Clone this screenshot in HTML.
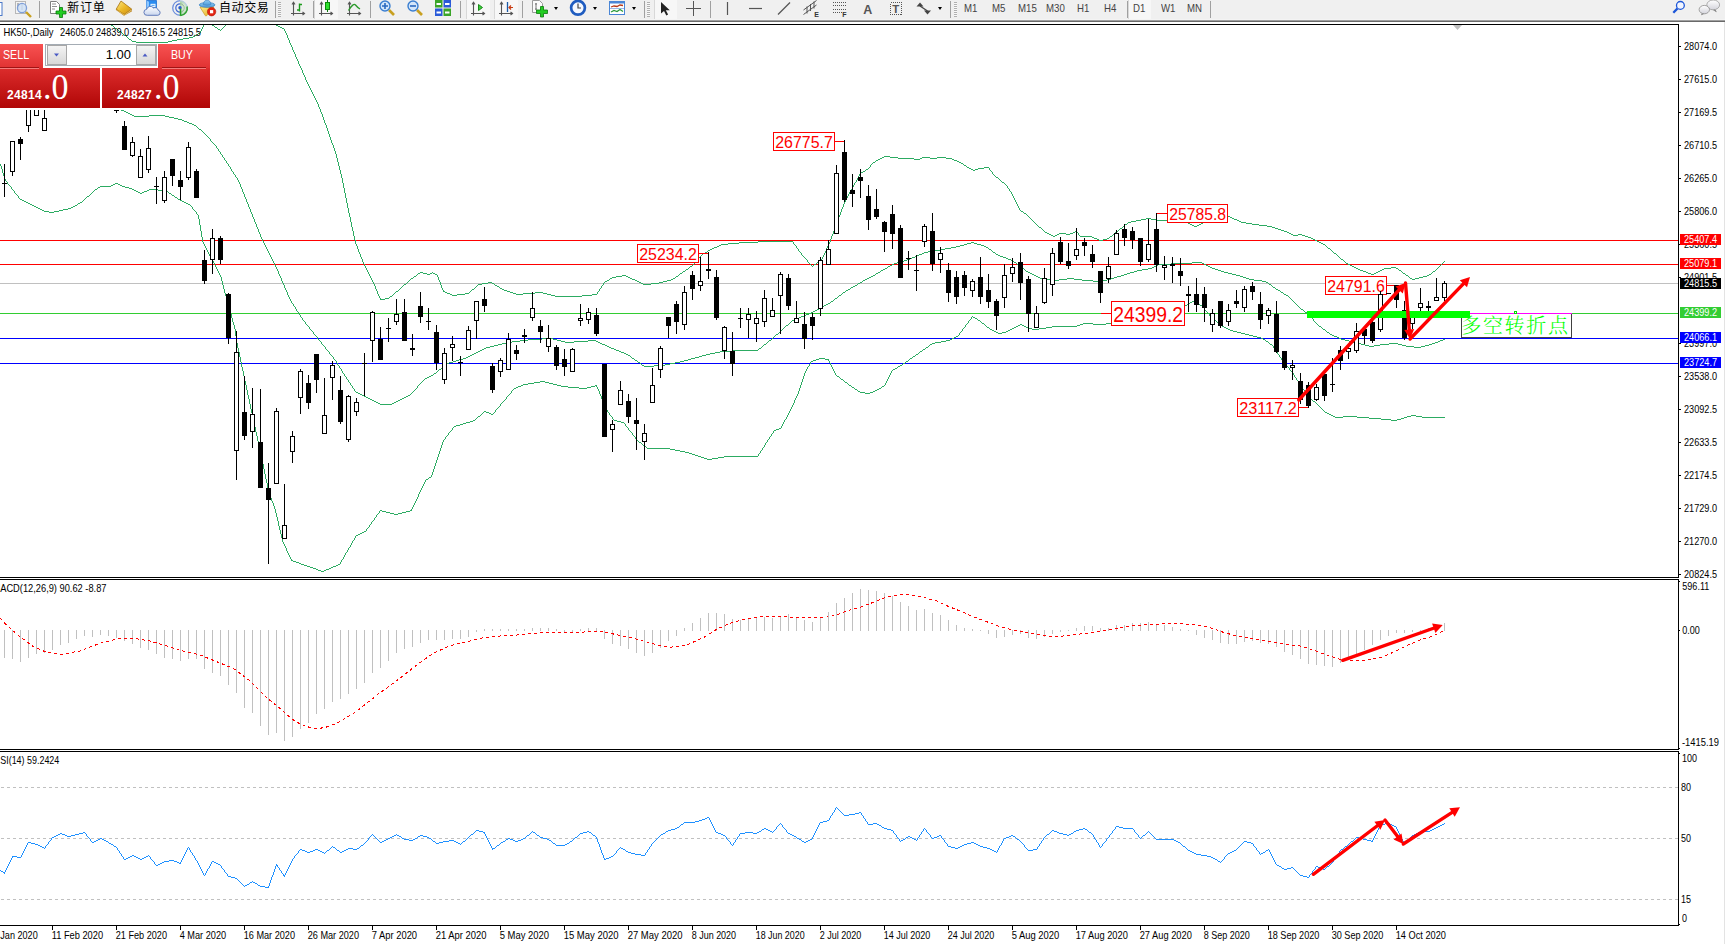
<!DOCTYPE html>
<html lang="zh"><head><meta charset="utf-8"><title>HK50 Daily</title>
<style>
html,body{margin:0;padding:0;background:#fff;}
body{width:1725px;height:944px;position:relative;overflow:hidden;font-family:"Liberation Sans","Noto Sans CJK SC",sans-serif;}
.tb{position:absolute;left:0;top:0;width:1725px;height:20px;background:#f0f0f0;}
.l0{position:absolute;left:0;top:19px;width:1725px;height:1px;background:#f4f4f4;}
.l1{position:absolute;left:0;top:20px;width:1725px;height:1px;background:#a0a0a0;}
.l2{position:absolute;left:0;top:21px;width:1725px;height:1px;background:#696969;}
.sep{position:absolute;top:1px;width:1px;height:17px;background:#a0a0a0;}
.grip{position:absolute;top:2px;width:3px;height:15px;background:repeating-linear-gradient(to bottom,#b0b0b0 0,#b0b0b0 1px,#f8f8f8 1px,#f8f8f8 2px);}
.sel{position:absolute;top:0;height:19px;background:#f7f7f7;border-left:1px solid #d8d8d8;}
.tf{position:absolute;top:2.6px;font-size:10.4px;color:#444;line-height:12px;white-space:nowrap;transform:scaleX(.93);transform-origin:0 0;}
.cn{position:absolute;top:0;font-size:12px;line-height:16px;color:#000;white-space:nowrap;}
.dd{position:absolute;top:7px;width:0;height:0;border-left:2.5px solid transparent;border-right:2.5px solid transparent;border-top:3px solid #000;}
.ic{position:absolute;top:0;}
.panel{position:absolute;left:0;top:44px;width:210px;height:64px;}
.pt{position:absolute;top:0;height:24px;background:linear-gradient(#f85252,#e13232);}
.pd{position:absolute;top:23px;height:1px;background:#a01414;}
.pb{position:absolute;top:24px;height:40px;background:linear-gradient(#dc2c2c,#b00606);}
.pl{position:absolute;top:24px;height:1px;background:#f47c7c;}
.pbtn{position:absolute;top:0;height:23px;color:#fff;font-size:12.4px;line-height:23px;transform:scaleX(.86);transform-origin:0 0;}
.spin{position:absolute;left:45px;top:0;width:110px;height:20px;background:#fff;border:1px solid #a4acb4;box-sizing:content-box;}
.sb{position:absolute;top:0;width:20px;height:20px;background:linear-gradient(#f4f4f4,#d8d8d8);border:1px solid #a8a8a8;box-sizing:border-box;}
.sm{position:absolute;font-size:12px;font-weight:bold;color:#fff;line-height:12px;letter-spacing:.35px;}
.bg{position:absolute;font-size:35px;color:#fff;line-height:35px;font-family:"Liberation Serif",serif;transform:scaleX(.97);transform-origin:0 0;}
</style></head><body>
<div class="tb"></div><div class="l0"></div><div class="l1"></div><div class="l2"></div>
<div class="sel" style="left:314px;width:23px"></div>
<div class="sel" style="left:466px;width:23px"></div>
<div class="sel" style="left:494px;width:23px"></div>
<div class="sel" style="left:654px;width:22px"></div>
<div class="sel" style="left:1128px;width:22px"></div>
<div class="sep" style="left:39px"></div>
<div class="sep" style="left:275px"></div>
<div class="sep" style="left:313px"></div>
<div class="sep" style="left:370px"></div>
<div class="sep" style="left:460px"></div>
<div class="sep" style="left:522px"></div>
<div class="sep" style="left:644px"></div>
<div class="sep" style="left:710px"></div>
<div class="sep" style="left:950px"></div>
<div class="sep" style="left:1127px"></div>
<div class="sep" style="left:1210px"></div>
<div class="grip" style="left:278px"></div>
<div class="grip" style="left:647px"></div>
<div class="grip" style="left:954px"></div>
<div class="cn" style="left:67.3px;top:0;letter-spacing:.7px">新订单</div>
<div class="cn" style="left:219px;top:0;letter-spacing:.6px">自动交易</div>
<div class="dd" style="left:554px"></div>
<div class="dd" style="left:593px"></div>
<div class="dd" style="left:632px"></div>
<div class="dd" style="left:938px"></div>
<div class="tf" style="left:964px">M1</div>
<div class="tf" style="left:992px">M5</div>
<div class="tf" style="left:1018px">M15</div>
<div class="tf" style="left:1046px">M30</div>
<div class="tf" style="left:1077px">H1</div>
<div class="tf" style="left:1104px">H4</div>
<div class="tf" style="left:1133px">D1</div>
<div class="tf" style="left:1161px">W1</div>
<div class="tf" style="left:1187px">MN</div>
<svg class="ic" width="1725" height="20" viewBox="0 0 1725 20" style="left:0">
<!-- left cut icon -->
<rect x="-2" y="2.5" width="4" height="13" fill="#fff" stroke="#4a78c8"/>
<!-- chart magnifier -->
<rect x="15.5" y="1.5" width="10" height="12" fill="#f4f4f4" stroke="#b8b8b8"/>
<path d="M18 3v7M22 3v7" stroke="#777" stroke-width="1"/>
<line x1="26" y1="12" x2="31" y2="17" stroke="#c8a020" stroke-width="2.4"/>
<circle cx="22" cy="8" r="4.6" fill="#cfe0f6" fill-opacity=".85" stroke="#7f9fd8" stroke-width="1.2"/>
<!-- new order -->
<path d="M50.5 1.5h6l3 3v9h-9z" fill="#fff" stroke="#808080"/>
<path d="M52 4h4M52 6.5h5M52 9h3" stroke="#909090" stroke-width="1"/>
<path d="M59.5 7.500h3v3.500h3.500v3h-3.500v3.500h-3v-3.500h-3.500v-3h3.500z" fill="#22cc22" stroke="#0a7a0a" stroke-width=".8"/>
<!-- gold book -->
<defs>
<linearGradient id="gb" x1="0" y1="0" x2="1" y2="1"><stop offset="0" stop-color="#fbe98a"/><stop offset=".5" stop-color="#ecb928"/><stop offset="1" stop-color="#c98a12"/></linearGradient>
<linearGradient id="hat" x1="0" y1="0" x2="0" y2="1"><stop offset="0" stop-color="#8fcaf2"/><stop offset="1" stop-color="#4f9bd8"/></linearGradient>
<linearGradient id="fun" x1="0" y1="0" x2="1" y2="1"><stop offset="0" stop-color="#fdf08a"/><stop offset="1" stop-color="#e3a51c"/></linearGradient>
<linearGradient id="cl" x1="0" y1="0" x2="0" y2="1"><stop offset="0" stop-color="#ffffff"/><stop offset="1" stop-color="#c9d6ee"/></linearGradient>
<radialGradient id="sg" cx=".5" cy=".5" r=".5"><stop offset="0" stop-color="#e8f2e8"/><stop offset="1" stop-color="#9fcf9f"/></radialGradient>
</defs>
<path d="M124 15.800l-8-5.800 1-1.200 7.500 5.400 7-4.200.5 1.200z" fill="#b57a14"/>
<path d="M121 1l10.800 8.200-7.600 5.200-8-5.200z" fill="url(#gb)" stroke="#a8720e" stroke-width=".8"/>
<path d="M117.500 10.500l6.800 4.600 6.800-4.500" fill="none" stroke="#f3d778" stroke-width=".7"/>
<!-- cloud -->
<path d="M146.500 .5h10v8.500h-10z" fill="#2a8cf0" stroke="#1f6fd0" stroke-width=".8"/>
<path d="M146.500 .5l2.500 1.200v7.300h-2.500z" fill="#8cc6ff"/>
<rect x="150.500" y="3.800" width="5" height="3.200" fill="#e8f4ff"/>
<path d="M151.500 5.400h3" stroke="#2a8cf0" stroke-width=".8"/>
<path d="M147.200 15.300a3 3 0 0 1-.5-6a3.800 3.800 0 0 1 6.800-1.300a3.200 3.200 0 0 1 4.700 2.200a2.600 2.600 0 0 1-.4 5.100z" fill="url(#cl)" stroke="#5672b4" stroke-width=".9"/>
<!-- signal -->
<path d="M180 .5a7.500 7.500 0 0 1 0 15z" fill="url(#sg)" opacity=".8"/>
<circle cx="180" cy="8" r="7.300" fill="none" stroke="#b4c6ec" stroke-width="1"/>
<path d="M180 .7a7.300 7.300 0 0 0 0 14.600" fill="none" stroke="#6f90dc" stroke-width="1.100"/>
<path d="M180 3.800a4.200 4.200 0 0 0 0 8.400" fill="none" stroke="#3f68d2" stroke-width="1.200"/>
<path d="M180 3.800a4.200 4.200 0 0 1 0 8.400" fill="none" stroke="#8fb08f" stroke-width="1"/>
<path d="M180.500 15.500a7.400 7.400 0 0 0 6.600-9" fill="none" stroke="#2fa12f" stroke-width="1.500"/>
<circle cx="180" cy="7.800" r="1.700" fill="#2a5ad0"/>
<line x1="180.500" y1="8.500" x2="180.500" y2="15.800" stroke="#22a022" stroke-width="1.500"/>
<!-- autotrade -->
<path d="M200 7h14l-3 4-4.500 4.800q-.6.500-1.200-.200z" fill="url(#fun)" stroke="#c8961a" stroke-width=".7"/>
<ellipse cx="207.100" cy="4.900" rx="7.800" ry="2.400" fill="url(#hat)" stroke="#3d84c4" stroke-width=".8"/>
<path d="M203.300 4.600q.4-4.400 3.800-4.400t3.800 4.400q-3.800 1.300-7.600 0z" fill="url(#hat)" stroke="#3d84c4" stroke-width=".7"/>
<circle cx="211.600" cy="11.700" r="4.200" fill="#e32412" stroke="#b01608" stroke-width=".6"/>
<rect x="210" y="10.100" width="3.200" height="3.200" fill="#fff"/>
<!-- bar chart -->
<g stroke="#555" stroke-width="1.1" fill="none">
<path d="M293.5 2.500v13M291.0 13.500h13"/><path d="M292.0 4.500l1.500-2.200 1.500 2.200M302.5 12l2 1.500-2 1.500"/>
<path d="M321.5 2.500v13M319.0 13.500h13"/><path d="M320.0 4.500l1.500-2.200 1.500 2.200M330.5 12l2 1.500-2 1.500"/>
<path d="M349.5 2.500v13M347.0 13.500h13"/><path d="M348.0 4.500l1.500-2.200 1.500 2.200M358.5 12l2 1.500-2 1.500"/>
<path d="M473.5 2.500v13M471.0 13.500h13"/><path d="M472.0 4.500l1.500-2.200 1.500 2.200M482.5 12l2 1.500-2 1.500"/>
<path d="M501.5 2.500v13M499.0 13.500h13"/><path d="M500.0 4.500l1.500-2.200 1.500 2.200M510.5 12l2 1.500-2 1.500"/>
</g>
<path d="M299.500 3.500v8M299.500 4.500h2.500M297 10h2.500" fill="none" stroke="#1c9a1c" stroke-width="1.400"/>
<line x1="327.500" y1="0" x2="327.500" y2="12" stroke="#0a7a0a" stroke-width="1"/>
<rect x="325.500" y="2.500" width="4" height="7" fill="#2ee02e" stroke="#0a8a0a"/>
<path d="M348.500 10.500q5-8 7-5.500t4.500 4" fill="none" stroke="#2a9a2a" stroke-width="1.300"/>
<!-- zoom in/out -->
<line x1="389" y1="10" x2="394" y2="15" stroke="#c8a020" stroke-width="2.600"/>
<circle cx="385" cy="6" r="5" fill="#d4e6fa" stroke="#3a7ed0" stroke-width="1.400"/>
<path d="M382 6h6M385 3v6" stroke="#2a6ac0" stroke-width="1.600"/>
<line x1="417" y1="10" x2="422" y2="15" stroke="#c8a020" stroke-width="2.600"/>
<circle cx="413" cy="6" r="5" fill="#d4e6fa" stroke="#3a7ed0" stroke-width="1.400"/>
<path d="M410 6h6" stroke="#2a6ac0" stroke-width="1.600"/>
<!-- tile -->
<rect x="435" y="0" width="7.500" height="7.500" fill="#3aa528"/><rect x="443.500" y="0" width="7.500" height="7.500" fill="#2a5ad8"/>
<rect x="435" y="8.500" width="7.500" height="7.500" fill="#2a5ad8"/><rect x="443.500" y="8.500" width="7.500" height="7.500" fill="#3aa528"/>
<path d="M436.500 4h4.500M445 4h4.500M436.500 12.500h4.500M445 12.500h4.500" stroke="#fff" stroke-width="2"/>
<!-- autoscroll / shift -->
<path d="M478.500 4.500l4 3-4 3z" fill="#3ad03a" stroke="#1c8a1c" stroke-width="1"/>
<line x1="507.500" y1="2" x2="507.500" y2="12" stroke="#1a5aa8" stroke-width="1.300"/>
<path d="M513 7.500h-4M511 5.500l-2 2 2 2" fill="none" stroke="#c83a10" stroke-width="1.200"/>
<!-- new indicator -->
<path d="M532.500 .5h7l3 3v9h-10z" fill="#fbfbfb" stroke="#9a9a9a"/>
<path d="M536 3v7M535 4h2M535 9h2" stroke="#777" stroke-width="1"/>
<path d="M540.500 6.500h3v3.500h4v3.500h-4v3.500h-3v-3.500h-4v-3.500h4z" fill="#22cc22" stroke="#0a7a0a" stroke-width=".8"/>
<!-- clock -->
<circle cx="578" cy="7.800" r="6.900" fill="#f4f8ff" stroke="#1f5cc0" stroke-width="2.700"/>
<path d="M578 3.500v4.500h3" fill="none" stroke="#444" stroke-width="1.200"/>
<!-- template -->
<rect x="609.500" y="1.500" width="15" height="13" fill="#fff" stroke="#4a86d6"/>
<rect x="609" y="1" width="16" height="2.500" fill="#4a86d6"/>
<path d="M611 7l3-1 3 .5 3-1.500 3 .5" fill="none" stroke="#b83a1a" stroke-width="1.300"/>
<path d="M611 12l3-1.500 3 1 3-2 3 2" fill="none" stroke="#2a9a3a" stroke-width="1.300"/>
<line x1="610" y1="8.500" x2="624" y2="8.500" stroke="#9ab8e6" stroke-width="1"/>
<!-- cursor -->
<path d="M661 2v11.500l3-2.500 2.300 4.500 1.800-.9-2.300-4.400h4z" fill="#222"/>
<!-- crosshair -->
<path d="M693.500 1v15M686 8.500h15" stroke="#555" stroke-width="1.100" shape-rendering="crispEdges"/>
<!-- line tools -->
<line x1="727.500" y1="2" x2="727.500" y2="15" stroke="#555" stroke-width="1.200"/>
<line x1="749" y1="8.500" x2="762" y2="8.500" stroke="#555" stroke-width="1.200"/>
<line x1="778" y1="14.500" x2="790" y2="2.500" stroke="#555" stroke-width="1.200"/>
<path d="M803.500 10l13-9.500M803.500 14.500l13-9.500M807 6.500v7M810.500 4v7M814 1.500v7" stroke="#555" stroke-width="1" fill="none"/>
<text x="814.200" y="16.800" font-size="7" font-family="Liberation Sans, sans-serif" font-weight="bold" fill="#333">E</text>
<path d="M833 2.500h13M833 5.500h13M833 9.500h13M833 12.500h9" stroke="#555" stroke-width="1" stroke-dasharray="1 1" shape-rendering="crispEdges"/>
<text x="842.200" y="16.800" font-size="7" font-family="Liberation Sans, sans-serif" font-weight="bold" fill="#333">F</text>
<text x="863.200" y="13.500" font-size="12.500" font-family="Liberation Sans, sans-serif" font-weight="bold" fill="#555">A</text>
<rect x="890.500" y="2.500" width="11" height="12" fill="none" stroke="#555" stroke-dasharray="1 1" shape-rendering="crispEdges"/>
<text x="892.300" y="13" font-size="11.500" font-family="Liberation Sans, sans-serif" font-weight="bold" fill="#555">T</text>
<path d="M916.500 6.500l3.500-4 3.500 4zM924 10.500l3.500 4 3.500-4z" fill="#444"/>
<path d="M920 6l7.500 5" stroke="#444" stroke-width="1.300"/>
<!-- search -->
<line x1="1677.600" y1="8.400" x2="1673.300" y2="12.700" stroke="#1c56d8" stroke-width="2.300"/>
<circle cx="1680.400" cy="5.400" r="3.900" fill="#f2f5ff" stroke="#1c56d8" stroke-width="1.300"/>
<!-- chat -->
<defs><linearGradient id="bub" x1="0" y1="0" x2="0" y2="1"><stop offset="0" stop-color="#ffffff"/><stop offset="1" stop-color="#d4d4dc"/></linearGradient></defs>
<path d="M1715 9.500l1.300 2.300-3-2z" fill="#777" stroke="#777" stroke-width=".6"/>
<ellipse cx="1713.200" cy="4.900" rx="6.400" ry="4.900" fill="url(#bub)" stroke="#9a9a9a" stroke-width=".8"/>
<path d="M1702.500 12.800l-1 2 2.800-1.400z" fill="#777" stroke="#777" stroke-width=".6"/>
<ellipse cx="1704.300" cy="9.600" rx="5.200" ry="4.200" fill="url(#bub)" stroke="#8e8e8e" stroke-width=".8"/>
</svg>

<svg width="1725" height="944" viewBox="0 0 1725 944" style="position:absolute;left:0;top:0" font-family="Liberation Sans, sans-serif">
<defs><clipPath id="cm"><rect x="0" y="25" width="1678" height="552"/></clipPath><clipPath id="c2"><rect x="0" y="580" width="1678" height="169"/></clipPath><clipPath id="c3"><rect x="0" y="752" width="1678" height="173"/></clipPath></defs>
<g shape-rendering="crispEdges">
<rect x="0" y="24" width="1679" height="1" fill="#000"/>
<rect x="1678" y="24" width="1" height="554" fill="#000"/>
<rect x="0" y="577" width="1679" height="1" fill="#000"/>
<rect x="0" y="579" width="1679" height="1" fill="#000"/>
<rect x="1678" y="579" width="1" height="171" fill="#000"/>
<rect x="0" y="749" width="1679" height="1" fill="#000"/>
<rect x="0" y="751" width="1679" height="1" fill="#000"/>
<rect x="1678" y="751" width="1" height="175" fill="#000"/>
<rect x="0" y="925" width="1679" height="1" fill="#000"/>
<rect x="1724" y="22" width="1" height="922" fill="#e3e3e3"/>
<g clip-path="url(#cm)">
<rect x="0" y="283" width="1678" height="1" fill="#c0c0c0"/>
<rect x="0" y="240" width="1678" height="1" fill="#ff0000"/>
<rect x="0" y="264" width="1678" height="1" fill="#ff0000"/>
<rect x="0" y="313" width="1678" height="1" fill="#32cd32"/>
<rect x="0" y="338" width="1678" height="1" fill="#0000ff"/>
<rect x="0" y="363" width="1678" height="1" fill="#0000ff"/>
<path d="M172 40.5h5M136 42.5h32M132 41.5h4M168 41.5h4M193 36.5h2M119 31.5h2M124 35.5h2M195 35.5h2M198 33.5h2M129 39.5h2M177 39.5h6M183 38.5h6M111 25.5h2M189 37.5h4M115 28.5h2M113.5 26v1M203.5 25v2M201.5 29v2M121.5 32v1M122.5 33v1M202.5 27v2M131.5 40v1M118.5 30v1M200.5 31v2M126.5 36v1M127.5 37v1M117.5 29v1M197.5 34v1M114.5 27v1M128.5 38v1M123.5 34v1" fill="none" stroke="#2cab62" stroke-width="1"/>
<path d="M215 27.5h2M218 29.5h2M212 25.5h2M224.5 26v1M220.5 30v1M223.5 27v1M221.5 29v1M217.5 28v1M214.5 26v1M225.5 25v1M222.5 28v1" fill="none" stroke="#2cab62" stroke-width="1"/>
<path d="M447 293.5h3M465 293.5h4M513 293.5h3M523 293.5h12M543 293.5h4M1125 224.5h2M1190 224.5h2M1199 224.5h2M1252 224.5h7M1092 237.5h2M1308 237.5h3M739 242.5h19M1319 242.5h2M967 167.5h2M984 167.5h5M708 250.5h2M452 295.5h5M551 295.5h4M582 295.5h10M482 283.5h6M492 283.5h2M641 283.5h2M651 283.5h8M1021 211.5h2M418 273.5h2M423 273.5h4M430 273.5h2M433 273.5h2M680 273.5h2M1368 273.5h3M1374 273.5h2M1403 273.5h2M1075 231.5h2M1284 231.5h3M1146 218.5h5M1214 218.5h5M1232 218.5h2M957 161.5h2M884 156.5h6M612 277.5h4M628 277.5h2M1419 277.5h4M450 294.5h2M457 294.5h8M516 294.5h7M547 294.5h4M592 294.5h5M1136 220.5h5M1156 220.5h16M1208 220.5h3M1237 220.5h2M712 248.5h2M1328 248.5h2M497 286.5h2M1341 259.5h2M710 249.5h2M1094 238.5h3M1107 238.5h2M1311 238.5h2M605 281.5h2M637 281.5h2M663 281.5h4M876 160.5h2M954 160.5h3M1141 219.5h5M1151 219.5h5M1211 219.5h3M1234 219.5h3M472 289.5h2M502 289.5h2M882 157.5h2M890 157.5h8M922 157.5h8M937 157.5h9M1188 223.5h2M1201 223.5h2M1246 223.5h6M504 290.5h3M683 271.5h2M1363 271.5h3M1378 271.5h2M1433 271.5h2M1219 217.5h6M1230 217.5h2M1120 228.5h2M1275 228.5h3M390 296.5h2M555 296.5h27M721 244.5h7M1323 244.5h2M1354 267.5h2M1391 267.5h5M1192 225.5h2M1197 225.5h2M1259 225.5h8M878 159.5h2M914 159.5h6M952 159.5h2M1024 213.5h2M719 245.5h2M758 241.5h35M1317 241.5h2M1356 268.5h2M1384 268.5h7M1396 268.5h2M705 252.5h2M1051 235.5h2M1055 235.5h2M1293 235.5h5M1302 235.5h3M703 253.5h2M1334 253.5h2M1225 216.5h5M714 247.5h3M1047 233.5h2M1059 233.5h7M1070 233.5h3M1289 233.5h2M411 278.5h2M610 278.5h2M630 278.5h2M673 278.5h2M1410 278.5h2M1415 278.5h4M488 282.5h4M639 282.5h2M659 282.5h4M445 292.5h2M510 292.5h3M535 292.5h8M385 298.5h4M1350 265.5h2M973 170.5h2M414 276.5h2M616 276.5h6M626 276.5h2M676 276.5h2M1423 276.5h4M380 299.5h5M280 27.5h2M282 28.5h2M632 279.5h3M671 279.5h2M1412 279.5h3M420 272.5h3M1366 272.5h2M1376 272.5h2M1128 222.5h3M1182 222.5h6M1203 222.5h2M1241 222.5h5M1131 221.5h5M1172 221.5h10M1205 221.5h3M1239 221.5h2M1194 226.5h3M1267 226.5h5M686 269.5h2M1358 269.5h2M1382 269.5h2M427 274.5h3M435 274.5h2M1371 274.5h3M1429 274.5h2M1281 230.5h3M622 275.5h4M1406 275.5h2M1427 275.5h2M1099 240.5h4M1315 240.5h2M1053 236.5h2M1080 236.5h12M1110 236.5h2M1305 236.5h3M961 163.5h2M495 285.5h2M880 158.5h2M898 158.5h16M920 158.5h2M930 158.5h7M946 158.5h6M964 165.5h2M1039 227.5h2M1272 227.5h3M1049 234.5h2M1057 234.5h2M1066 234.5h4M1291 234.5h2M1298 234.5h4M1045 232.5h2M1073 232.5h2M1115 232.5h2M1287 232.5h2M1097 239.5h2M1103 239.5h4M1313 239.5h2M404 284.5h2M478 284.5h4M643 284.5h8M814 264.5h2M1348 264.5h2M500 288.5h2M866 169.5h2M971 169.5h2M975 169.5h3M728 243.5h11M1321 243.5h2M819 260.5h2M396 291.5h2M443 291.5h2M507 291.5h3M873 162.5h2M959 162.5h2M690 266.5h2M1352 266.5h2M1278 229.5h3M863 171.5h2M861 172.5h2M607 280.5h2M635 280.5h2M667 280.5h4M1360 270.5h3M1380 270.5h2M1399 270.5h2M1346 263.5h2M717 246.5h2M969 168.5h2M978 168.5h6M1002 182.5h2M276 25.5h2M278 26.5h2M996 177.5h2M857.5 178v2M309.5 86v2M354.5 236v4M284.5 29v2M798.5 249v2M406.5 283v1M841.5 209v3M853.5 185v2M1117.5 231v1M319.5 107v2M291.5 45v2M337.5 158v4M849.5 192v2M323.5 117v3M675.5 277v1M413.5 277v1M298.5 61v3M1340.5 258v1M375.5 286v3M1019.5 208v2M305.5 77v3M1330.5 249v1M302.5 70v3M840.5 212v3M1431.5 273v1M852.5 187v2M442.5 288v2M443.5 290v1M360.5 254v3M848.5 194v2M844.5 202v2M352.5 227v4M1325.5 245v1M1026.5 214v1M800.5 252v1M801.5 253v2M318.5 104v3M289.5 40v3M827.5 246v2M296.5 57v2M349.5 213v4M1112.5 235v1M847.5 196v2M297.5 59v2M328.5 131v3M373.5 282v2M303.5 73v2M597.5 292v2M1032.5 220v1M843.5 204v3M304.5 75v2M355.5 240v4M689.5 267v1M311.5 90v2M314.5 96v2M609.5 279v1M441.5 285v3M399.5 289v1M826.5 248v3M341.5 174v4M366.5 268v2M1010.5 191v1M351.5 222v5M369.5 274v2M1013.5 196v2M834.5 228v3M817.5 262v1M1028.5 216v1M334.5 148v3M802.5 255v1M403.5 285v1M870.5 165v2M833.5 231v3M1034.5 222v1M1035.5 223v1M344.5 188v5M312.5 92v2M1122.5 227v1M313.5 94v2M837.5 220v3M990.5 170v1M350.5 217v5M368.5 272v2M326.5 125v3M329.5 134v3M330.5 137v3M1436.5 269v1M346.5 198v5M805.5 258v1M347.5 203v5M682.5 272v1M602.5 285v1M1109.5 237v1M1443.5 262v1M1343.5 260v1M1344.5 261v1M598.5 291v1M353.5 231v5M1037.5 225v1M286.5 33v2M336.5 154v4M290.5 43v2M702.5 254v1M324.5 120v3M992.5 172v2M601.5 286v2M325.5 123v2M697.5 259v2M300.5 66v2M823.5 255v2M376.5 289v2M1339.5 257v1M307.5 82v2M345.5 193v5M438.5 277v3M807.5 260v2M362.5 259v3M342.5 178v5M822.5 257v2M331.5 140v3M494.5 284v1M830.5 239v3M869.5 167v1M402.5 286v1M799.5 251v1M320.5 109v3M292.5 47v3M994.5 175v1M474.5 288v1M409.5 280v1M1031.5 219v1M963.5 164v1M357.5 246v3M437.5 275v2M809.5 263v1M361.5 257v2M679.5 274v1M417.5 274v1M340.5 170v4M1001.5 181v1M371.5 278v2M1012.5 194v2M1435.5 270v1M797.5 248v1M378.5 294v2M860.5 173v1M1442.5 263v1M343.5 183v5M1044.5 231v1M856.5 180v2M1033.5 221v1M499.5 287v1M701.5 255v1M339.5 166v4M696.5 261v1M370.5 276v2M859.5 174v2M1014.5 198v2M693.5 264v1M1123.5 226v1M855.5 182v1M377.5 291v3M335.5 151v3M803.5 256v1M839.5 215v2M851.5 189v2M471.5 290v1M821.5 259v1M410.5 279v1M854.5 183v2M288.5 38v2M285.5 31v2M850.5 191v1M295.5 54v3M991.5 171v1M846.5 198v2M1337.5 255v1M1402.5 272v1M1432.5 272v1M688.5 268v1M440.5 282v3M416.5 275v1M836.5 223v2M364.5 264v2M998.5 178v1M966.5 166v1M333.5 145v3M816.5 263v1M287.5 35v3M322.5 114v3M293.5 50v2M1113.5 234v1M993.5 174v1M1004.5 183v1M301.5 68v2M1029.5 217v1M793.5 242v2M439.5 280v2M356.5 244v2M400.5 288v1M363.5 262v2M999.5 179v1M1036.5 224v1M332.5 143v2M348.5 208v5M299.5 64v2M995.5 176v1M1042.5 229v1M306.5 80v2M1043.5 230v1M806.5 259v1M829.5 242v2M1440.5 265v1M372.5 280v2M600.5 288v1M1409.5 277v1M327.5 128v3M1016.5 202v2M1038.5 226v1M379.5 296v2M432.5 272v1M813.5 265v1M1079.5 235v1M828.5 244v2M393.5 294v1M1008.5 188v1M1405.5 274v1M315.5 98v2M868.5 168v1M1015.5 200v2M408.5 281v1M875.5 161v1M1077.5 232v1M1078.5 233v2M359.5 252v2M1006.5 185v1M1007.5 186v2M678.5 275v1M1127.5 223v1M810.5 264v1M317.5 102v2M838.5 217v3M321.5 112v2M475.5 287v1M358.5 249v3M1114.5 233v1M825.5 251v2M394.5 293v1M365.5 266v2M700.5 256v1M1439.5 266v1M599.5 289v2M845.5 200v2M695.5 262v1M401.5 287v1M812.5 266v1M865.5 170v1M294.5 52v2M698.5 258v1M824.5 253v2M470.5 291v1M1041.5 228v1M832.5 234v2M308.5 84v2M794.5 244v1M872.5 163v1M804.5 257v1M374.5 284v2M1408.5 276v1M1018.5 206v2M407.5 282v1M1124.5 225v1M831.5 236v3M1441.5 264v1M835.5 225v3M795.5 245v1M796.5 246v2M338.5 162v4M604.5 282v1M1398.5 269v1M1017.5 204v2M842.5 207v2M1119.5 229v1M603.5 283v2M1005.5 184v1M699.5 257v1M1009.5 189v2M694.5 263v1M808.5 262v1M316.5 100v2M707.5 251v1M1000.5 180v1M469.5 292v1M871.5 164v1M476.5 286v1M989.5 168v2M367.5 270v2M1011.5 192v2M1336.5 254v1M685.5 270v1M811.5 265v1M392.5 295v1M1331.5 250v1M1437.5 268v1M1332.5 251v1M380.5 298v1M310.5 88v2M1444.5 261v1M1326.5 246v1M1027.5 215v1M858.5 176v2M1327.5 247v1M1338.5 256v1M1118.5 230v1M398.5 290v1M1401.5 271v1M1333.5 252v1M1023.5 212v1M477.5 285v1M1030.5 218v1M389.5 297v1M1438.5 267v1M692.5 265v1M1020.5 210v1M818.5 261v1M395.5 292v1M1345.5 262v1" fill="none" stroke="#2cab62" stroke-width="1"/>
<path d="M470 355.5h2M628 355.5h2M702 355.5h4M427 377.5h2M478 351.5h2M619 351.5h2M720 351.5h12M512 341.5h8M561 341.5h4M574 341.5h14M596 341.5h2M1349 341.5h4M1438 341.5h2M476 352.5h2M621 352.5h3M715 352.5h5M484 348.5h2M611 348.5h3M759 348.5h2M863 280.5h2M1052 280.5h7M1082 280.5h11M1103 280.5h4M1254 280.5h8M1093 281.5h10M1262 281.5h4M846 290.5h2M1278 290.5h2M498 344.5h4M602 344.5h3M764 344.5h2M1361 344.5h4M1380 344.5h9M1398 344.5h4M1429 344.5h3M425 378.5h2M494 345.5h4M605 345.5h2M1365 345.5h4M1374 345.5h6M1402 345.5h4M1425 345.5h4M480 350.5h2M616 350.5h3M732 350.5h26M506 342.5h6M565 342.5h9M598 342.5h2M1353 342.5h4M1435 342.5h3M444 365.5h2M642 365.5h2M654 365.5h11M809 313.5h2M372 400.5h2M398 400.5h2M897 262.5h4M1014 262.5h2M1192 262.5h10M806 314.5h3M132 115.5h2M149 115.5h16M901 261.5h3M894 263.5h3M1171 263.5h21M1202 263.5h2M867 278.5h2M1040 278.5h4M1067 278.5h7M1111 278.5h3M1246 278.5h3M380 404.5h12M878 272.5h2M1028 272.5h2M1130 272.5h4M1224 272.5h4M520 340.5h8M557 340.5h4M588 340.5h8M769 340.5h2M1345 340.5h4M1440 340.5h3M124 111.5h2M967 243.5h4M974 243.5h3M528 339.5h14M553 339.5h4M1341 339.5h4M1443 339.5h2M482 349.5h2M614 349.5h2M1284 294.5h2M928 251.5h6M869 277.5h2M1038 277.5h2M1114 277.5h3M1243 277.5h3M865 279.5h2M1044 279.5h8M1059 279.5h8M1074 279.5h8M1107 279.5h4M1249 279.5h5M945 248.5h6M922 253.5h2M472 354.5h2M626 354.5h2M706 354.5h4M811 312.5h2M1305 312.5h2M449 362.5h4M638 362.5h2M675 362.5h5M971 242.5h3M876 273.5h2M1030 273.5h2M1127 273.5h3M1228 273.5h4M853 286.5h2M370 399.5h2M400 399.5h2M871 276.5h2M1036 276.5h2M1117 276.5h4M1240 276.5h3M366 397.5h2M404 397.5h2M813 311.5h2M801 316.5h3M919 254.5h3M996 254.5h2M799 317.5h2M490 346.5h4M607 346.5h2M1369 346.5h5M1406 346.5h8M1421 346.5h4M907 259.5h3M1008 259.5h3M924 252.5h4M993 252.5h2M910 258.5h2M1006 258.5h2M463 358.5h3M632 358.5h2M691 358.5h4M881 270.5h2M1137 270.5h5M1218 270.5h3M434 373.5h2M486 347.5h4M609 347.5h2M1414 347.5h7M796 318.5h3M892 264.5h2M1158 264.5h13M1204 264.5h2M815 310.5h2M665 364.5h5M934 250.5h6M964 244.5h3M977 244.5h4M835 298.5h2M468 356.5h2M699 356.5h3M960 245.5h4M981 245.5h3M130 114.5h2M453 361.5h3M680 361.5h4M502 343.5h4M600 343.5h2M1357 343.5h4M1389 343.5h9M1432 343.5h3M121 110.5h3M804 315.5h2M843 292.5h2M1281 292.5h2M819 308.5h2M890 265.5h2M1018 265.5h2M1156 265.5h2M1206 265.5h2M376 402.5h2M394 402.5h2M1327 332.5h2M951 247.5h5M986 247.5h2M888 266.5h2M1154 266.5h2M1208 266.5h2M826 304.5h2M174 118.5h4M817 309.5h2M1301 309.5h2M364 396.5h2M406 396.5h2M1152 267.5h2M1210 267.5h2M542 338.5h11M1339 338.5h2M1332 335.5h2M1334 336.5h3M644 366.5h10M134 116.5h15M165 116.5h4M189 123.5h3M128 113.5h2M119 109.5h2M1026 271.5h2M1134 271.5h3M1221 271.5h3M113 106.5h2M860 282.5h2M1266 282.5h2M192 124.5h2M356 392.5h2M374 401.5h2M396 401.5h2M169 117.5h5M447 363.5h2M670 363.5h5M912 257.5h3M1003 257.5h3M1323 329.5h2M459 359.5h4M688 359.5h3M456 360.5h3M635 360.5h2M684 360.5h4M1032 274.5h2M1124 274.5h3M1232 274.5h4M885 268.5h2M1022 268.5h2M1148 268.5h4M1212 268.5h3M940 249.5h5M989 249.5h2M855 285.5h2M474 353.5h2M624 353.5h2M710 353.5h5M178 119.5h4M126 112.5h2M117 108.5h2M110 105.5h3M831 301.5h2M956 246.5h4M984 246.5h2M378 403.5h2M392 403.5h2M1337 337.5h2M776 334.5h2M1330 334.5h2M466 357.5h2M695 357.5h4M915 256.5h2M1000 256.5h3M358 393.5h2M904 260.5h3M1011 260.5h2M858 283.5h2M199 129.5h2M115 107.5h2M883 269.5h2M1142 269.5h6M1215 269.5h3M108 104.5h2M792 320.5h2M917 255.5h2M998 255.5h2M194 125.5h2M187 122.5h2M851 287.5h2M1273 287.5h2M824 305.5h2M1319 326.5h2M106 103.5h2M184 121.5h3M439 369.5h2M1269 284.5h2M839 295.5h2M1286 295.5h2M786 325.5h2M368 398.5h2M402 398.5h2M848 289.5h2M1276 289.5h2M362 395.5h2M408 395.5h2M429 376.5h2M794 319.5h2M828 303.5h2M182 120.5h2M873 275.5h2M1034 275.5h2M1121 275.5h3M1236 275.5h4M360 394.5h2M431 375.5h2M104 102.5h2M822 306.5h2M100 100.5h2M102 101.5h2M346.5 377v2M350.5 383v2M241.5 187v2M298.5 312v2M309.5 327v2M299.5 314v1M273.5 261v2M248.5 204v3M252.5 214v3M258.5 229v3M287.5 292v3M259.5 232v2M1316.5 323v1M791.5 321v1M266.5 247v2M269.5 253v2M330.5 354v1M1307.5 313v1M297.5 311v1M300.5 315v2M240.5 184v3M768.5 341v1M301.5 317v1M311.5 330v1M247.5 202v2M253.5 217v2M228.5 164v2M257.5 227v2M1303.5 310v1M232.5 171v1M1292.5 300v1M267.5 249v2M264.5 243v2M442.5 367v1M332.5 356v1M336.5 361v2M1309.5 315v1M1299.5 307v1M1310.5 316v1M245.5 197v2M205.5 134v1M781.5 330v1M234.5 174v1M437.5 371v1M830.5 302v1M338.5 365v1M255.5 222v2M284.5 285v3M1312.5 318v1M262.5 239v2M305.5 322v2M315.5 335v1M316.5 336v1M218.5 149v2M219.5 151v1M222.5 155v2M348.5 380v2M352.5 386v2M767.5 342v1M420.5 383v1M243.5 192v2M275.5 265v2M250.5 209v3M276.5 267v2M778.5 333v1M412.5 392v1M282.5 281v2M254.5 219v3M1314.5 321v1M260.5 234v3M289.5 297v2M318.5 339v1M782.5 329v1M220.5 152v2M221.5 154v1M347.5 379v1M224.5 158v2M351.5 385v1M1321.5 327v1M789.5 323v1M242.5 189v3M1025.5 270v1M201.5 130v1M291.5 301v2M231.5 169v2M1021.5 267v1M320.5 341v1M1308.5 314v1M837.5 297v1M1017.5 264v1M203.5 132v1M204.5 133v1M775.5 335v1M233.5 172v2M268.5 251v2M322.5 344v1M337.5 363v2M423.5 380v1M790.5 322v1M303.5 320v1M304.5 321v1M206.5 135v1M235.5 175v2M788.5 324v1M324.5 346v1M761.5 347v1M325.5 347v2M277.5 269v2M249.5 207v2M335.5 360v1M433.5 374v1M339.5 366v2M1313.5 319v2M418.5 385v1M441.5 368v1M834.5 299v1M413.5 391v1M880.5 271v1M236.5 177v1M237.5 178v2M1271.5 285v1M842.5 293v1M1024.5 269v1M244.5 194v3M326.5 349v1M417.5 386v2M340.5 368v1M341.5 369v2M774.5 336v1M283.5 283v2M1311.5 317v1M261.5 237v2M290.5 299v2M293.5 304v2M307.5 325v1M308.5 326v1M887.5 267v1M210.5 139v2M992.5 251v1M329.5 352v2M758.5 349v1M202.5 131v1M850.5 288v1M292.5 303v1M295.5 307v2M270.5 255v2M766.5 343v1M208.5 137v1M321.5 342v2M438.5 370v1M197.5 127v1M988.5 248v1M209.5 138v1M223.5 157v1M349.5 382v1M1290.5 298v1M773.5 337v1M227.5 163v1M353.5 388v1M1291.5 299v1M302.5 318v2M833.5 300v1M857.5 284v1M1315.5 322v1M1326.5 331v1M424.5 379v1M841.5 294v1M421.5 382v1M272.5 259v2M312.5 331v1M416.5 388v1M323.5 345v1M279.5 274v2M251.5 212v2M779.5 332v1M634.5 359v1M225.5 160v1M226.5 161v2M229.5 166v1M355.5 391v1M286.5 290v2M1322.5 328v1M333.5 357v2M1317.5 324v1M1318.5 325v1M239.5 182v2M246.5 199v3M213.5 143v1M278.5 271v3M256.5 224v3M285.5 288v2M1283.5 293v1M263.5 241v2M306.5 324v1M995.5 253v1M410.5 394v1M772.5 338v1M238.5 180v2M838.5 296v1M327.5 350v1M991.5 250v1M215.5 145v1M342.5 371v2M345.5 376v1M207.5 136v1M641.5 364v1M1288.5 296v1M1289.5 297v1M1329.5 333v1M217.5 148v1M343.5 373v1M637.5 361v1M1295.5 303v1M875.5 274v1M1325.5 330v1M296.5 309v2M310.5 329v1M271.5 257v2M274.5 263v2M762.5 346v1M281.5 278v3M288.5 295v2M354.5 389v2M1272.5 286v1M422.5 381v1M780.5 331v1M414.5 390v1M331.5 355v1M1297.5 305v1M1298.5 306v1M1268.5 283v1M294.5 306v1M784.5 327v1M313.5 332v2M211.5 141v1M280.5 276v2M212.5 142v1M821.5 307v1M230.5 167v2M1304.5 311v1M845.5 291v1M265.5 245v2M1013.5 261v1M334.5 359v1M1300.5 308v1M314.5 334v1M411.5 393v1M214.5 144v1M344.5 374v2M446.5 364v1M415.5 389v1M640.5 363v1M862.5 281v1M317.5 337v2M216.5 146v2M1293.5 301v1M1294.5 302v1M1275.5 288v1M783.5 328v1M630.5 356v1M631.5 357v1M763.5 345v1M1020.5 266v1M319.5 340v1M196.5 126v1M436.5 372v1M1296.5 304v1M771.5 339v1M443.5 366v1M1016.5 263v1M1280.5 291v1M785.5 326v1M419.5 384v1M328.5 351v1M198.5 128v1" fill="none" stroke="#2cab62" stroke-width="1"/>
<path d="M296 562.5h3M689 453.5h3M1249 335.5h4M1335 417.5h8M1357 417.5h12M1404 417.5h3M1422 417.5h23M454 426.5h2M1313 401.5h2M978 320.5h2M1131 320.5h8M1214 320.5h2M647 448.5h23M982 323.5h2M1083 323.5h10M1106 323.5h9M523 384.5h5M553 384.5h4M134 190.5h2M147 190.5h2M158 190.5h8M996 332.5h2M1002 332.5h4M1237 332.5h4M952 338.5h2M1261 338.5h2M1160 314.5h3M1020 324.5h2M1080 324.5h3M1093 324.5h13M1219 324.5h2M514 388.5h2M579 388.5h8M879 388.5h2M1123 321.5h8M49 212.5h5M895 368.5h2M860 392.5h5M870 392.5h3M816 359.5h3M825 359.5h4M695 455.5h3M704 458.5h3M712 458.5h6M316 569.5h2M326 569.5h3M318 570.5h3M324 570.5h2M680 451.5h5M478 416.5h2M1333 416.5h2M1343 416.5h14M1407 416.5h4M1416 416.5h6M975 318.5h2M1147 318.5h5M40 209.5h2M63 209.5h5M1381 419.5h10M1397 419.5h4M1163 313.5h3M950 339.5h2M1263 339.5h2M24 201.5h2M182 201.5h2M42 210.5h2M59 210.5h4M855 389.5h2M877 389.5h2M100 186.5h11M122 186.5h3M644 446.5h2M1016 326.5h2M1024 326.5h2M1052 326.5h25M1222 326.5h2M44 211.5h5M54 211.5h5M528 383.5h6M549 383.5h4M858 391.5h2M873 391.5h2M115 183.5h3M946 340.5h4M893 369.5h2M473 420.5h2M614 420.5h3M1391 420.5h6M1182 306.5h3M813 360.5h3M486 412.5h3M1325 412.5h2M837 376.5h2M26 202.5h2M80 202.5h2M184 202.5h2M1190 302.5h2M1194 302.5h2M865 393.5h5M941 341.5h5M1266 341.5h2M460 424.5h3M360 533.5h2M382 511.5h4M406 511.5h4M516 387.5h2M568 387.5h11M587 387.5h4M852 387.5h2M1012 328.5h2M1028 328.5h4M1039 328.5h7M1226 328.5h2M701 457.5h3M718 457.5h6M491 414.5h2M1329 414.5h2M1018 325.5h2M1022 325.5h2M1077 325.5h3M692 454.5h3M87 196.5h2M1369 418.5h12M1401 418.5h3M307 566.5h3M333 566.5h3M394 514.5h4M774 430.5h2M484 411.5h2M36 207.5h2M71 207.5h2M38 208.5h2M68 208.5h3M875 390.5h2M95 189.5h2M132 189.5h2M149 189.5h9M1115 322.5h8M518 386.5h3M561 386.5h7M591 386.5h4M882 386.5h2M926 347.5h2M521 385.5h2M557 385.5h4M595 385.5h2M849 385.5h2M390 513.5h4M398 513.5h4M900 365.5h2M920 351.5h2M136 191.5h2M144 191.5h3M166 191.5h2M994 331.5h2M1006 331.5h2M1233 331.5h4M987 327.5h2M1014 327.5h2M1026 327.5h2M1046 327.5h6M1224 327.5h2M1177 308.5h3M358 534.5h2M923 349.5h2M990 329.5h2M1010 329.5h2M1032 329.5h7M1228 329.5h2M956 336.5h2M1253 336.5h4M313 568.5h3M329 568.5h2M935 342.5h6M111 185.5h2M120 185.5h2M776 429.5h3M22 200.5h2M180 200.5h2M685 452.5h4M456 425.5h4M698 456.5h3M724 456.5h34M1192 301.5h2M540 381.5h5M998 333.5h4M1241 333.5h4M534 382.5h6M545 382.5h4M845 382.5h2M466 422.5h4M621 422.5h3M1166 312.5h3M916 354.5h2M811 361.5h2M906 361.5h2M1139 319.5h8M140 193.5h2M169 193.5h2M1169 311.5h2M362 532.5h2M841 379.5h2M34 206.5h2M73 206.5h2M28 203.5h2M78 203.5h2M186 203.5h2M1331 415.5h2M1411 415.5h5M1180 307.5h2M639 442.5h2M380 510.5h2M410 510.5h2M992 330.5h2M1008 330.5h2M1230 330.5h3M310 567.5h3M331 567.5h2M463 423.5h3M426 479.5h2M954 337.5h2M1257 337.5h4M898 366.5h2M707 459.5h5M113 184.5h2M118 184.5h2M489 413.5h2M1327 413.5h2M1171 310.5h3M321 571.5h3M470 421.5h3M617 421.5h4M779 428.5h2M301 564.5h3M338 564.5h2M819 358.5h6M910 358.5h2M1196 303.5h2M1157 315.5h3M138 192.5h2M142 192.5h2M299 563.5h2M670 449.5h5M1155 316.5h2M973 317.5h2M1152 317.5h3M20 199.5h2M178 199.5h2M932 343.5h3M386 512.5h4M402 512.5h4M98 187.5h2M125 187.5h4M30 204.5h2M188 204.5h2M903 363.5h2M32 205.5h2M75 205.5h2M1185 305.5h2M1200 305.5h2M175 197.5h2M675 450.5h5M1187 304.5h2M1198 304.5h2M172 195.5h2M293 561.5h3M304 565.5h3M336 565.5h2M1245 334.5h4M356 535.5h2M930 344.5h2M1270 344.5h2M429 477.5h2M913 356.5h2M129 188.5h3M1174 309.5h3M291 560.5h2M364 531.5h2M637.5 440v1M216.5 267v2M340.5 562v2M260.5 450v5M285.5 546v2M781.5 426v2M794.5 400v3M762.5 448v2M277.5 517v4M236.5 336v7M2.5 169v4M442.5 442v3M246.5 385v5M832.5 367v2M909.5 359v1M758.5 454v2M267.5 483v5M202.5 237v5M257.5 436v5M208.5 252v2M439.5 451v3M209.5 254v2M1284.5 362v2M230.5 311v3M194.5 210v1M273.5 503v3M195.5 211v1M233.5 322v3M198.5 215v4M501.5 403v1M1299.5 383v2M1302.5 387v2M263.5 464v5M1303.5 389v1M1202.5 306v1M496.5 409v1M433.5 469v3M793.5 403v2M828.5 360v1M889.5 375v2M223.5 285v4M226.5 296v4M599.5 391v3M280.5 530v4M801.5 382v3M16.5 194v1M379.5 511v2M283.5 542v2M249.5 399v5M286.5 548v3M437.5 457v3M481.5 414v1M171.5 194v1M500.5 404v2M965.5 325v2M370.5 524v1M255.5 427v5M235.5 329v7M1.5 166v3M495.5 410v2M834.5 371v2M888.5 377v2M511.5 391v2M857.5 390v1M266.5 479v4M268.5 488v4M428.5 478v1M207.5 250v2M506.5 397v2M1272.5 345v1M800.5 385v3M787.5 415v2M884.5 385v1M378.5 513v1M1286.5 365v1M453.5 427v1M768.5 439v1M1276.5 351v1M196.5 212v2M241.5 362v5M448.5 433v2M252.5 413v5M218.5 271v2M1304.5 390v1M964.5 327v1M1305.5 391v2M1204.5 308v2M369.5 525v2M804.5 373v3M601.5 396v3M281.5 534v4M598.5 389v2M238.5 348v4M203.5 242v2M18.5 196v2M258.5 441v5M605.5 406v2M798.5 391v3M1268.5 342v1M608.5 412v1M786.5 417v2M452.5 428v2M767.5 440v2M274.5 506v3M275.5 509v4M234.5 325v4M782.5 424v2M436.5 460v3M244.5 376v5M847.5 383v1M803.5 376v3M848.5 384v1M415.5 501v2M227.5 300v4M1274.5 348v1M1278.5 354v1M250.5 404v5M1288.5 367v1M240.5 357v5M288.5 553v2M1289.5 368v2M220.5 275v2M1307.5 394v1M1206.5 311v1M802.5 379v3M843.5 380v1M247.5 390v5M844.5 381v1M414.5 503v2M790.5 409v2M269.5 492v3M610.5 415v1M270.5 495v3M892.5 370v1M253.5 418v4M352.5 541v2M368.5 527v1M348.5 548v2M773.5 431v2M839.5 377v1M789.5 411v2M239.5 352v5M344.5 555v2M1290.5 370v1M808.5 366v1M1291.5 371v1M969.5 320v1M287.5 551v2M785.5 419v1M374.5 518v2M636.5 439v1M499.5 406v1M446.5 436v1M1208.5 313v1M4.5 176v3M1209.5 314v2M835.5 373v2M94.5 190v1M343.5 557v2M210.5 256v2M211.5 258v2M174.5 196v1M193.5 209v1M807.5 367v2M968.5 321v2M242.5 367v4M763.5 447v1M200.5 225v6M224.5 289v4M1189.5 303v1M14.5 191v2M248.5 395v4M15.5 193v1M261.5 455v5M1293.5 373v2M354.5 538v2M435.5 463v3M1210.5 316v1M278.5 521v5M1211.5 317v1M3.5 173v3M836.5 375v1M482.5 413v1M213.5 261v2M1285.5 364v1M1217.5 322v1M512.5 390v1M829.5 361v2M493.5 413v1M1218.5 323v1M851.5 386v1M13.5 190v1M600.5 394v2M237.5 343v5M205.5 246v2M625.5 424v2M989.5 328v1M438.5 454v3M629.5 430v1M607.5 410v2M970.5 319v1M422.5 486v2M201.5 231v6M1212.5 318v1M418.5 494v3M367.5 528v1M1213.5 319v1M772.5 433v1M788.5 413v2M958.5 335v1M1273.5 346v2M643.5 445v1M784.5 420v2M1287.5 366v1M262.5 460v4M197.5 214v1M797.5 394v2M421.5 488v2M219.5 273v2M445.5 437v2M831.5 365v2M279.5 526v4M961.5 331v1M627.5 427v1M204.5 244v2M19.5 198v1M980.5 321v1M638.5 441v1M609.5 413v2M783.5 422v2M1275.5 349v2M411.5 509v1M353.5 540v1M221.5 277v4M349.5 547v1M17.5 195v1M510.5 393v1M505.5 399v1M611.5 416v1M372.5 521v1M85.5 198v1M497.5 408v1M596.5 386v1M603.5 401v2M92.5 192v1M1277.5 352v2M1292.5 372v1M371.5 522v2M1309.5 397v1M1310.5 398v1M1221.5 325v1M962.5 329v2M256.5 432v4M229.5 307v4M613.5 419v1M232.5 318v4M449.5 432v1M215.5 265v2M796.5 396v2M760.5 451v2M1216.5 321v1M417.5 497v2M441.5 445v3M602.5 399v2M282.5 538v4M624.5 423v1M259.5 446v4M413.5 505v2M272.5 501v2M1294.5 375v2M1297.5 380v1M0.5 164v2M795.5 398v2M891.5 371v2M245.5 381v4M432.5 472v3M440.5 448v3M228.5 304v3M251.5 409v4M231.5 314v4M199.5 219v6M373.5 520v1M890.5 373v2M264.5 469v5M498.5 407v1M830.5 363v2M833.5 369v2M509.5 394v1M626.5 426v1M881.5 387v1M504.5 400v1M810.5 362v2M93.5 191v1M376.5 515v2M451.5 430v1M1295.5 377v1M897.5 367v1M271.5 498v3M806.5 369v2M243.5 371v5M967.5 323v1M1203.5 307v1M885.5 383v2M769.5 437v2M809.5 364v2M765.5 443v2M1316.5 403v1M805.5 371v2M761.5 450v1M5.5 179v2M628.5 428v2M764.5 445v2M915.5 355v1M265.5 474v5M792.5 405v2M225.5 293v3M416.5 499v2M1279.5 355v2M425.5 480v2M86.5 197v1M289.5 555v2M1319.5 406v1M83.5 200v1M1308.5 395v2M791.5 407v2M7.5 182v2M366.5 529v2M887.5 379v2M771.5 434v2M483.5 412v1M630.5 431v1M925.5 348v1M799.5 388v3M972.5 316v1M612.5 417v2M254.5 422v5M1207.5 312v1M513.5 389v1M597.5 387v2M345.5 553v2M985.5 325v1M604.5 403v3M770.5 436v1M986.5 326v1M450.5 431v1M1281.5 358v2M341.5 560v2M971.5 317v2M291.5 559v1M89.5 195v1M1306.5 393v1M1296.5 378v2M966.5 324v1M1321.5 408v1M443.5 440v2M9.5 185v1M908.5 360v1M981.5 322v1M632.5 433v2M222.5 281v4M434.5 466v3M977.5 319v1M1283.5 361v1M355.5 536v2M476.5 418v1M1298.5 381v2M276.5 513v4M351.5 543v2M347.5 550v2M11.5 187v2M634.5 436v1M377.5 514v1M635.5 437v2M412.5 507v2M91.5 193v1M217.5 269v2M424.5 482v2M922.5 350v1M214.5 263v2M1315.5 402v1M82.5 201v1M350.5 545v2M431.5 475v2M886.5 381v2M206.5 248v2M191.5 206v1M192.5 207v2M766.5 442v1M423.5 484v2M1311.5 399v1M959.5 333v2M905.5 362v1M97.5 188v1M284.5 544v2M212.5 260v1M1317.5 404v1M1318.5 405v1M6.5 181v1M477.5 417v1M1323.5 410v1M84.5 199v1M168.5 192v1M1312.5 400v1M1324.5 411v1M1205.5 310v1M508.5 395v1M984.5 324v1M606.5 408v2M475.5 419v1M503.5 401v1M375.5 517v1M919.5 352v1M290.5 557v2M346.5 552v1M8.5 184v1M342.5 559v1M90.5 194v1M177.5 198v1M420.5 490v2M444.5 439v1M494.5 412v1M929.5 345v1M902.5 364v1M447.5 435v1M419.5 492v2M963.5 328v1M77.5 204v1M10.5 186v1M633.5 435v1M912.5 357v1M854.5 388v1M1269.5 343v1M1280.5 357v1M190.5 205v1M1320.5 407v1M12.5 189v1M631.5 432v1M507.5 396v1M1265.5 340v1M480.5 415v1M646.5 447v1M502.5 402v1M918.5 353v1M960.5 332v1M1282.5 360v1M641.5 443v1M642.5 444v1M1300.5 385v1M1322.5 409v1M1301.5 386v1M840.5 378v1M759.5 453v1M928.5 346v1" fill="none" stroke="#2cab62" stroke-width="1"/>
<rect x="637.5" y="244.5" width="61" height="18" fill="#fff" stroke="#ff0000" stroke-width="1" shape-rendering="crispEdges"/>
<text x="639.2" y="260" font-size="16.6" fill="#ff0000" textLength="57.6" lengthAdjust="spacingAndGlyphs">25234.2</text>
<rect x="699" y="253" width="9" height="1" fill="#ff0000" shape-rendering="crispEdges"/>
<rect x="773.5" y="132.5" width="61" height="18" fill="#fff" stroke="#ff0000" stroke-width="1" shape-rendering="crispEdges"/>
<text x="775.2" y="148" font-size="16.6" fill="#ff0000" textLength="57.6" lengthAdjust="spacingAndGlyphs">26775.7</text>
<rect x="835" y="141" width="9" height="1" fill="#ff0000" shape-rendering="crispEdges"/>
<rect x="1167.5" y="204.5" width="60" height="18" fill="#fff" stroke="#ff0000" stroke-width="1" shape-rendering="crispEdges"/>
<text x="1169.2" y="220" font-size="16.6" fill="#ff0000" textLength="56.8" lengthAdjust="spacingAndGlyphs">25785.8</text>
<rect x="1156" y="213" width="11" height="1" fill="#ff0000" shape-rendering="crispEdges"/>
<rect x="1111.5" y="301.5" width="73" height="24" fill="#fff" stroke="#ff0000" stroke-width="1" shape-rendering="crispEdges"/>
<text x="1113.3" y="321.5" font-size="21.8" fill="#ff0000" textLength="69.8" lengthAdjust="spacingAndGlyphs">24399.2</text>
<rect x="1101" y="313" width="10" height="1" fill="#ff0000" shape-rendering="crispEdges"/>
<rect x="1325.5" y="276.5" width="61" height="18" fill="#fff" stroke="#ff0000" stroke-width="1" shape-rendering="crispEdges"/>
<text x="1327.2" y="292" font-size="16.6" fill="#ff0000" textLength="57.6" lengthAdjust="spacingAndGlyphs">24791.6</text>
<rect x="1387" y="285" width="7" height="1" fill="#ff0000" shape-rendering="crispEdges"/>
<rect x="1237.5" y="398.5" width="61" height="18" fill="#fff" stroke="#ff0000" stroke-width="1" shape-rendering="crispEdges"/>
<text x="1239.2" y="414" font-size="16.6" fill="#ff0000" textLength="57.6" lengthAdjust="spacingAndGlyphs">23117.2</text>
<rect x="1299" y="407" width="9" height="1" fill="#ff0000" shape-rendering="crispEdges"/>
<rect x="4" y="164" width="1" height="33" fill="#000"/>
<rect x="2" y="183" width="5" height="1" fill="#000"/>
<rect x="12" y="141" width="1" height="35" fill="#000"/>
<rect x="10" y="141" width="5" height="31" fill="#000"/>
<rect x="11" y="142" width="3" height="29" fill="#fff"/>
<rect x="20" y="137" width="1" height="23" fill="#000"/>
<rect x="18" y="139" width="5" height="5" fill="#000"/>
<rect x="28" y="90" width="1" height="42" fill="#000"/>
<rect x="26" y="96" width="5" height="30" fill="#000"/>
<rect x="27" y="97" width="3" height="28" fill="#fff"/>
<rect x="36" y="88" width="1" height="28" fill="#000"/>
<rect x="34" y="92" width="5" height="24" fill="#000"/>
<rect x="35" y="93" width="3" height="22" fill="#fff"/>
<rect x="44" y="100" width="1" height="31" fill="#000"/>
<rect x="42" y="118" width="5" height="13" fill="#000"/>
<rect x="43" y="119" width="3" height="11" fill="#fff"/>
<rect x="116" y="110" width="1" height="3" fill="#000"/>
<rect x="114" y="110" width="5" height="1" fill="#000"/>
<rect x="124" y="121" width="1" height="29" fill="#000"/>
<rect x="122" y="126" width="5" height="24" fill="#000"/>
<rect x="132" y="137" width="1" height="20" fill="#000"/>
<rect x="130" y="142" width="5" height="14" fill="#000"/>
<rect x="131" y="143" width="3" height="12" fill="#fff"/>
<rect x="140" y="149" width="1" height="29" fill="#000"/>
<rect x="138" y="156" width="5" height="22" fill="#000"/>
<rect x="139" y="157" width="3" height="20" fill="#fff"/>
<rect x="148" y="136" width="1" height="37" fill="#000"/>
<rect x="146" y="148" width="5" height="22" fill="#000"/>
<rect x="147" y="149" width="3" height="20" fill="#fff"/>
<rect x="156" y="177" width="1" height="27" fill="#000"/>
<rect x="154" y="186" width="5" height="1" fill="#000"/>
<rect x="164" y="171" width="1" height="32" fill="#000"/>
<rect x="162" y="177" width="5" height="24" fill="#000"/>
<rect x="163" y="178" width="3" height="22" fill="#fff"/>
<rect x="172" y="159" width="1" height="27" fill="#000"/>
<rect x="170" y="159" width="5" height="17" fill="#000"/>
<rect x="180" y="171" width="1" height="29" fill="#000"/>
<rect x="178" y="180" width="5" height="7" fill="#000"/>
<rect x="188" y="142" width="1" height="38" fill="#000"/>
<rect x="186" y="147" width="5" height="31" fill="#000"/>
<rect x="187" y="148" width="3" height="29" fill="#fff"/>
<rect x="196" y="169" width="1" height="29" fill="#000"/>
<rect x="194" y="171" width="5" height="27" fill="#000"/>
<rect x="204" y="250" width="1" height="34" fill="#000"/>
<rect x="202" y="260" width="5" height="21" fill="#000"/>
<rect x="212" y="229" width="1" height="45" fill="#000"/>
<rect x="210" y="238" width="5" height="22" fill="#000"/>
<rect x="211" y="239" width="3" height="20" fill="#fff"/>
<rect x="220" y="236" width="1" height="28" fill="#000"/>
<rect x="218" y="238" width="5" height="22" fill="#000"/>
<rect x="228" y="293" width="1" height="51" fill="#000"/>
<rect x="226" y="294" width="5" height="44" fill="#000"/>
<rect x="236" y="331" width="1" height="149" fill="#000"/>
<rect x="234" y="352" width="5" height="99" fill="#000"/>
<rect x="235" y="353" width="3" height="97" fill="#fff"/>
<rect x="244" y="376" width="1" height="64" fill="#000"/>
<rect x="242" y="412" width="5" height="24" fill="#000"/>
<rect x="252" y="388" width="1" height="60" fill="#000"/>
<rect x="250" y="414" width="5" height="18" fill="#000"/>
<rect x="251" y="415" width="3" height="16" fill="#fff"/>
<rect x="260" y="389" width="1" height="99" fill="#000"/>
<rect x="258" y="442" width="5" height="46" fill="#000"/>
<rect x="268" y="463" width="1" height="101" fill="#000"/>
<rect x="266" y="488" width="5" height="12" fill="#000"/>
<rect x="276" y="408" width="1" height="76" fill="#000"/>
<rect x="274" y="411" width="5" height="73" fill="#000"/>
<rect x="275" y="412" width="3" height="71" fill="#fff"/>
<rect x="284" y="484" width="1" height="55" fill="#000"/>
<rect x="282" y="525" width="5" height="14" fill="#000"/>
<rect x="283" y="526" width="3" height="12" fill="#fff"/>
<rect x="292" y="431" width="1" height="32" fill="#000"/>
<rect x="290" y="436" width="5" height="16" fill="#000"/>
<rect x="291" y="437" width="3" height="14" fill="#fff"/>
<rect x="300" y="369" width="1" height="45" fill="#000"/>
<rect x="298" y="371" width="5" height="27" fill="#000"/>
<rect x="299" y="372" width="3" height="25" fill="#fff"/>
<rect x="308" y="375" width="1" height="34" fill="#000"/>
<rect x="306" y="383" width="5" height="20" fill="#000"/>
<rect x="316" y="354" width="1" height="39" fill="#000"/>
<rect x="314" y="354" width="5" height="26" fill="#000"/>
<rect x="324" y="378" width="1" height="56" fill="#000"/>
<rect x="322" y="415" width="5" height="19" fill="#000"/>
<rect x="323" y="416" width="3" height="17" fill="#fff"/>
<rect x="332" y="361" width="1" height="39" fill="#000"/>
<rect x="330" y="365" width="5" height="13" fill="#000"/>
<rect x="331" y="366" width="3" height="11" fill="#fff"/>
<rect x="340" y="376" width="1" height="48" fill="#000"/>
<rect x="338" y="390" width="5" height="32" fill="#000"/>
<rect x="348" y="395" width="1" height="47" fill="#000"/>
<rect x="346" y="396" width="5" height="44" fill="#000"/>
<rect x="347" y="397" width="3" height="42" fill="#fff"/>
<rect x="356" y="398" width="1" height="18" fill="#000"/>
<rect x="354" y="402" width="5" height="10" fill="#000"/>
<rect x="355" y="403" width="3" height="8" fill="#fff"/>
<rect x="364" y="353" width="1" height="43" fill="#000"/>
<rect x="362" y="363" width="5" height="1" fill="#000"/>
<rect x="372" y="311" width="1" height="51" fill="#000"/>
<rect x="370" y="312" width="5" height="29" fill="#000"/>
<rect x="371" y="313" width="3" height="27" fill="#fff"/>
<rect x="380" y="327" width="1" height="33" fill="#000"/>
<rect x="378" y="339" width="5" height="21" fill="#000"/>
<rect x="388" y="318" width="1" height="24" fill="#000"/>
<rect x="386" y="328" width="5" height="1" fill="#000"/>
<rect x="396" y="299" width="1" height="26" fill="#000"/>
<rect x="394" y="314" width="5" height="8" fill="#000"/>
<rect x="395" y="315" width="3" height="6" fill="#fff"/>
<rect x="404" y="299" width="1" height="42" fill="#000"/>
<rect x="402" y="312" width="5" height="29" fill="#000"/>
<rect x="412" y="334" width="1" height="22" fill="#000"/>
<rect x="410" y="348" width="5" height="2" fill="#000"/>
<rect x="420" y="292" width="1" height="31" fill="#000"/>
<rect x="418" y="306" width="5" height="11" fill="#000"/>
<rect x="428" y="308" width="1" height="22" fill="#000"/>
<rect x="426" y="321" width="5" height="1" fill="#000"/>
<rect x="436" y="325" width="1" height="45" fill="#000"/>
<rect x="434" y="332" width="5" height="31" fill="#000"/>
<rect x="444" y="348" width="1" height="36" fill="#000"/>
<rect x="442" y="353" width="5" height="27" fill="#000"/>
<rect x="443" y="354" width="3" height="25" fill="#fff"/>
<rect x="452" y="336" width="1" height="25" fill="#000"/>
<rect x="450" y="344" width="5" height="4" fill="#000"/>
<rect x="451" y="345" width="3" height="2" fill="#fff"/>
<rect x="460" y="356" width="1" height="20" fill="#000"/>
<rect x="458" y="362" width="5" height="1" fill="#000"/>
<rect x="468" y="326" width="1" height="24" fill="#000"/>
<rect x="466" y="330" width="5" height="20" fill="#000"/>
<rect x="467" y="331" width="3" height="18" fill="#fff"/>
<rect x="476" y="301" width="1" height="38" fill="#000"/>
<rect x="474" y="301" width="5" height="20" fill="#000"/>
<rect x="475" y="302" width="3" height="18" fill="#fff"/>
<rect x="484" y="287" width="1" height="25" fill="#000"/>
<rect x="482" y="299" width="5" height="7" fill="#000"/>
<rect x="492" y="363" width="1" height="30" fill="#000"/>
<rect x="490" y="366" width="5" height="24" fill="#000"/>
<rect x="500" y="358" width="1" height="19" fill="#000"/>
<rect x="498" y="360" width="5" height="12" fill="#000"/>
<rect x="499" y="361" width="3" height="10" fill="#fff"/>
<rect x="508" y="333" width="1" height="37" fill="#000"/>
<rect x="506" y="339" width="5" height="31" fill="#000"/>
<rect x="507" y="340" width="3" height="29" fill="#fff"/>
<rect x="516" y="345" width="1" height="15" fill="#000"/>
<rect x="514" y="350" width="5" height="4" fill="#000"/>
<rect x="524" y="329" width="1" height="14" fill="#000"/>
<rect x="522" y="335" width="5" height="2" fill="#000"/>
<rect x="532" y="292" width="1" height="29" fill="#000"/>
<rect x="530" y="308" width="5" height="10" fill="#000"/>
<rect x="531" y="309" width="3" height="8" fill="#fff"/>
<rect x="540" y="320" width="1" height="23" fill="#000"/>
<rect x="538" y="326" width="5" height="6" fill="#000"/>
<rect x="548" y="325" width="1" height="27" fill="#000"/>
<rect x="546" y="338" width="5" height="9" fill="#000"/>
<rect x="547" y="339" width="3" height="7" fill="#fff"/>
<rect x="556" y="345" width="1" height="25" fill="#000"/>
<rect x="554" y="347" width="5" height="19" fill="#000"/>
<rect x="564" y="349" width="1" height="27" fill="#000"/>
<rect x="562" y="359" width="5" height="8" fill="#000"/>
<rect x="572" y="348" width="1" height="24" fill="#000"/>
<rect x="570" y="349" width="5" height="23" fill="#000"/>
<rect x="571" y="350" width="3" height="21" fill="#fff"/>
<rect x="580" y="304" width="1" height="22" fill="#000"/>
<rect x="578" y="318" width="5" height="3" fill="#000"/>
<rect x="579" y="319" width="3" height="1" fill="#fff"/>
<rect x="588" y="308" width="1" height="16" fill="#000"/>
<rect x="586" y="312" width="5" height="8" fill="#000"/>
<rect x="587" y="313" width="3" height="6" fill="#fff"/>
<rect x="596" y="308" width="1" height="28" fill="#000"/>
<rect x="594" y="315" width="5" height="19" fill="#000"/>
<rect x="604" y="364" width="1" height="73" fill="#000"/>
<rect x="602" y="364" width="5" height="73" fill="#000"/>
<rect x="612" y="420" width="1" height="32" fill="#000"/>
<rect x="610" y="424" width="5" height="6" fill="#000"/>
<rect x="611" y="425" width="3" height="4" fill="#fff"/>
<rect x="620" y="381" width="1" height="24" fill="#000"/>
<rect x="618" y="390" width="5" height="15" fill="#000"/>
<rect x="619" y="391" width="3" height="13" fill="#fff"/>
<rect x="628" y="394" width="1" height="29" fill="#000"/>
<rect x="626" y="401" width="5" height="16" fill="#000"/>
<rect x="636" y="398" width="1" height="52" fill="#000"/>
<rect x="634" y="420" width="5" height="4" fill="#000"/>
<rect x="644" y="424" width="1" height="36" fill="#000"/>
<rect x="642" y="433" width="5" height="9" fill="#000"/>
<rect x="643" y="434" width="3" height="7" fill="#fff"/>
<rect x="652" y="368" width="1" height="35" fill="#000"/>
<rect x="650" y="385" width="5" height="18" fill="#000"/>
<rect x="651" y="386" width="3" height="16" fill="#fff"/>
<rect x="660" y="346" width="1" height="32" fill="#000"/>
<rect x="658" y="348" width="5" height="22" fill="#000"/>
<rect x="659" y="349" width="3" height="20" fill="#fff"/>
<rect x="668" y="317" width="1" height="21" fill="#000"/>
<rect x="666" y="317" width="5" height="9" fill="#000"/>
<rect x="676" y="301" width="1" height="33" fill="#000"/>
<rect x="674" y="304" width="5" height="18" fill="#000"/>
<rect x="684" y="286" width="1" height="44" fill="#000"/>
<rect x="682" y="292" width="5" height="33" fill="#000"/>
<rect x="683" y="293" width="3" height="31" fill="#fff"/>
<rect x="692" y="271" width="1" height="29" fill="#000"/>
<rect x="690" y="275" width="5" height="14" fill="#000"/>
<rect x="700" y="257" width="1" height="34" fill="#000"/>
<rect x="698" y="281" width="5" height="5" fill="#000"/>
<rect x="699" y="282" width="3" height="3" fill="#fff"/>
<rect x="708" y="252" width="1" height="27" fill="#000"/>
<rect x="706" y="269" width="5" height="2" fill="#000"/>
<rect x="716" y="270" width="1" height="50" fill="#000"/>
<rect x="714" y="277" width="5" height="41" fill="#000"/>
<rect x="724" y="326" width="1" height="33" fill="#000"/>
<rect x="722" y="327" width="5" height="24" fill="#000"/>
<rect x="723" y="328" width="3" height="22" fill="#fff"/>
<rect x="732" y="332" width="1" height="44" fill="#000"/>
<rect x="730" y="351" width="5" height="13" fill="#000"/>
<rect x="740" y="308" width="1" height="20" fill="#000"/>
<rect x="738" y="318" width="5" height="1" fill="#000"/>
<rect x="748" y="308" width="1" height="30" fill="#000"/>
<rect x="746" y="314" width="5" height="6" fill="#000"/>
<rect x="747" y="315" width="3" height="4" fill="#fff"/>
<rect x="756" y="311" width="1" height="31" fill="#000"/>
<rect x="754" y="318" width="5" height="6" fill="#000"/>
<rect x="755" y="319" width="3" height="4" fill="#fff"/>
<rect x="764" y="290" width="1" height="37" fill="#000"/>
<rect x="762" y="298" width="5" height="24" fill="#000"/>
<rect x="763" y="299" width="3" height="22" fill="#fff"/>
<rect x="772" y="298" width="1" height="19" fill="#000"/>
<rect x="770" y="310" width="5" height="7" fill="#000"/>
<rect x="771" y="311" width="3" height="5" fill="#fff"/>
<rect x="780" y="272" width="1" height="62" fill="#000"/>
<rect x="778" y="274" width="5" height="22" fill="#000"/>
<rect x="779" y="275" width="3" height="20" fill="#fff"/>
<rect x="788" y="274" width="1" height="36" fill="#000"/>
<rect x="786" y="278" width="5" height="28" fill="#000"/>
<rect x="796" y="301" width="1" height="22" fill="#000"/>
<rect x="794" y="318" width="5" height="5" fill="#000"/>
<rect x="795" y="319" width="3" height="3" fill="#fff"/>
<rect x="804" y="312" width="1" height="37" fill="#000"/>
<rect x="802" y="324" width="5" height="15" fill="#000"/>
<rect x="812" y="313" width="1" height="27" fill="#000"/>
<rect x="810" y="317" width="5" height="9" fill="#000"/>
<rect x="820" y="257" width="1" height="59" fill="#000"/>
<rect x="818" y="260" width="5" height="49" fill="#000"/>
<rect x="819" y="261" width="3" height="47" fill="#fff"/>
<rect x="828" y="240" width="1" height="25" fill="#000"/>
<rect x="826" y="249" width="5" height="16" fill="#000"/>
<rect x="827" y="250" width="3" height="14" fill="#fff"/>
<rect x="836" y="165" width="1" height="69" fill="#000"/>
<rect x="834" y="173" width="5" height="61" fill="#000"/>
<rect x="835" y="174" width="3" height="59" fill="#fff"/>
<rect x="844" y="140" width="1" height="62" fill="#000"/>
<rect x="842" y="152" width="5" height="48" fill="#000"/>
<rect x="852" y="174" width="1" height="33" fill="#000"/>
<rect x="850" y="190" width="5" height="4" fill="#000"/>
<rect x="860" y="169" width="1" height="29" fill="#000"/>
<rect x="858" y="177" width="5" height="4" fill="#000"/>
<rect x="868" y="185" width="1" height="45" fill="#000"/>
<rect x="866" y="196" width="5" height="24" fill="#000"/>
<rect x="876" y="189" width="1" height="30" fill="#000"/>
<rect x="874" y="209" width="5" height="8" fill="#000"/>
<rect x="884" y="221" width="1" height="31" fill="#000"/>
<rect x="882" y="222" width="5" height="10" fill="#000"/>
<rect x="892" y="205" width="1" height="44" fill="#000"/>
<rect x="890" y="214" width="5" height="20" fill="#000"/>
<rect x="900" y="225" width="1" height="53" fill="#000"/>
<rect x="898" y="228" width="5" height="50" fill="#000"/>
<rect x="908" y="251" width="1" height="19" fill="#000"/>
<rect x="906" y="258" width="5" height="1" fill="#000"/>
<rect x="916" y="255" width="1" height="36" fill="#000"/>
<rect x="914" y="270" width="5" height="1" fill="#000"/>
<rect x="924" y="224" width="1" height="23" fill="#000"/>
<rect x="922" y="226" width="5" height="16" fill="#000"/>
<rect x="923" y="227" width="3" height="14" fill="#fff"/>
<rect x="932" y="213" width="1" height="58" fill="#000"/>
<rect x="930" y="231" width="5" height="33" fill="#000"/>
<rect x="940" y="247" width="1" height="26" fill="#000"/>
<rect x="938" y="253" width="5" height="7" fill="#000"/>
<rect x="939" y="254" width="3" height="5" fill="#fff"/>
<rect x="948" y="263" width="1" height="39" fill="#000"/>
<rect x="946" y="270" width="5" height="23" fill="#000"/>
<rect x="956" y="271" width="1" height="33" fill="#000"/>
<rect x="954" y="277" width="5" height="20" fill="#000"/>
<rect x="964" y="271" width="1" height="25" fill="#000"/>
<rect x="962" y="275" width="5" height="13" fill="#000"/>
<rect x="972" y="279" width="1" height="18" fill="#000"/>
<rect x="970" y="281" width="5" height="10" fill="#000"/>
<rect x="971" y="282" width="3" height="8" fill="#fff"/>
<rect x="980" y="257" width="1" height="47" fill="#000"/>
<rect x="978" y="277" width="5" height="20" fill="#000"/>
<rect x="988" y="274" width="1" height="34" fill="#000"/>
<rect x="986" y="290" width="5" height="12" fill="#000"/>
<rect x="996" y="299" width="1" height="31" fill="#000"/>
<rect x="994" y="301" width="5" height="15" fill="#000"/>
<rect x="1004" y="264" width="1" height="44" fill="#000"/>
<rect x="1002" y="275" width="5" height="23" fill="#000"/>
<rect x="1003" y="276" width="3" height="21" fill="#fff"/>
<rect x="1012" y="258" width="1" height="24" fill="#000"/>
<rect x="1010" y="267" width="5" height="7" fill="#000"/>
<rect x="1011" y="268" width="3" height="5" fill="#fff"/>
<rect x="1020" y="253" width="1" height="47" fill="#000"/>
<rect x="1018" y="262" width="5" height="21" fill="#000"/>
<rect x="1028" y="276" width="1" height="56" fill="#000"/>
<rect x="1026" y="279" width="5" height="35" fill="#000"/>
<rect x="1036" y="306" width="1" height="22" fill="#000"/>
<rect x="1034" y="313" width="5" height="15" fill="#000"/>
<rect x="1035" y="314" width="3" height="13" fill="#fff"/>
<rect x="1044" y="268" width="1" height="36" fill="#000"/>
<rect x="1042" y="278" width="5" height="25" fill="#000"/>
<rect x="1043" y="279" width="3" height="23" fill="#fff"/>
<rect x="1052" y="248" width="1" height="48" fill="#000"/>
<rect x="1050" y="253" width="5" height="32" fill="#000"/>
<rect x="1051" y="254" width="3" height="30" fill="#fff"/>
<rect x="1060" y="237" width="1" height="27" fill="#000"/>
<rect x="1058" y="242" width="5" height="20" fill="#000"/>
<rect x="1068" y="243" width="1" height="26" fill="#000"/>
<rect x="1066" y="261" width="5" height="5" fill="#000"/>
<rect x="1076" y="228" width="1" height="32" fill="#000"/>
<rect x="1074" y="249" width="5" height="7" fill="#000"/>
<rect x="1075" y="250" width="3" height="5" fill="#fff"/>
<rect x="1084" y="238" width="1" height="18" fill="#000"/>
<rect x="1082" y="242" width="5" height="4" fill="#000"/>
<rect x="1092" y="245" width="1" height="23" fill="#000"/>
<rect x="1090" y="254" width="5" height="8" fill="#000"/>
<rect x="1100" y="271" width="1" height="32" fill="#000"/>
<rect x="1098" y="271" width="5" height="22" fill="#000"/>
<rect x="1108" y="257" width="1" height="26" fill="#000"/>
<rect x="1106" y="266" width="5" height="13" fill="#000"/>
<rect x="1107" y="267" width="3" height="11" fill="#fff"/>
<rect x="1116" y="230" width="1" height="25" fill="#000"/>
<rect x="1114" y="233" width="5" height="22" fill="#000"/>
<rect x="1115" y="234" width="3" height="20" fill="#fff"/>
<rect x="1124" y="224" width="1" height="22" fill="#000"/>
<rect x="1122" y="229" width="5" height="9" fill="#000"/>
<rect x="1132" y="227" width="1" height="22" fill="#000"/>
<rect x="1130" y="231" width="5" height="9" fill="#000"/>
<rect x="1140" y="238" width="1" height="28" fill="#000"/>
<rect x="1138" y="238" width="5" height="24" fill="#000"/>
<rect x="1148" y="219" width="1" height="43" fill="#000"/>
<rect x="1146" y="244" width="5" height="16" fill="#000"/>
<rect x="1147" y="245" width="3" height="14" fill="#fff"/>
<rect x="1156" y="213" width="1" height="59" fill="#000"/>
<rect x="1154" y="229" width="5" height="36" fill="#000"/>
<rect x="1164" y="256" width="1" height="24" fill="#000"/>
<rect x="1162" y="265" width="5" height="3" fill="#000"/>
<rect x="1163" y="266" width="3" height="1" fill="#fff"/>
<rect x="1172" y="257" width="1" height="26" fill="#000"/>
<rect x="1170" y="264" width="5" height="2" fill="#000"/>
<rect x="1180" y="258" width="1" height="28" fill="#000"/>
<rect x="1178" y="271" width="5" height="5" fill="#000"/>
<rect x="1188" y="286" width="1" height="26" fill="#000"/>
<rect x="1186" y="294" width="5" height="2" fill="#000"/>
<rect x="1196" y="278" width="1" height="34" fill="#000"/>
<rect x="1194" y="294" width="5" height="11" fill="#000"/>
<rect x="1204" y="287" width="1" height="35" fill="#000"/>
<rect x="1202" y="294" width="5" height="14" fill="#000"/>
<rect x="1212" y="309" width="1" height="23" fill="#000"/>
<rect x="1210" y="313" width="5" height="12" fill="#000"/>
<rect x="1211" y="314" width="3" height="10" fill="#fff"/>
<rect x="1220" y="301" width="1" height="27" fill="#000"/>
<rect x="1218" y="301" width="5" height="25" fill="#000"/>
<rect x="1228" y="304" width="1" height="22" fill="#000"/>
<rect x="1226" y="310" width="5" height="12" fill="#000"/>
<rect x="1227" y="311" width="3" height="10" fill="#fff"/>
<rect x="1236" y="290" width="1" height="18" fill="#000"/>
<rect x="1234" y="301" width="5" height="3" fill="#000"/>
<rect x="1244" y="286" width="1" height="26" fill="#000"/>
<rect x="1242" y="289" width="5" height="19" fill="#000"/>
<rect x="1243" y="290" width="3" height="17" fill="#fff"/>
<rect x="1252" y="282" width="1" height="18" fill="#000"/>
<rect x="1250" y="286" width="5" height="6" fill="#000"/>
<rect x="1260" y="292" width="1" height="37" fill="#000"/>
<rect x="1258" y="304" width="5" height="16" fill="#000"/>
<rect x="1268" y="308" width="1" height="16" fill="#000"/>
<rect x="1266" y="310" width="5" height="6" fill="#000"/>
<rect x="1267" y="311" width="3" height="4" fill="#fff"/>
<rect x="1276" y="301" width="1" height="52" fill="#000"/>
<rect x="1274" y="314" width="5" height="38" fill="#000"/>
<rect x="1284" y="351" width="1" height="19" fill="#000"/>
<rect x="1282" y="351" width="5" height="17" fill="#000"/>
<rect x="1292" y="360" width="1" height="20" fill="#000"/>
<rect x="1290" y="365" width="5" height="3" fill="#000"/>
<rect x="1291" y="366" width="3" height="1" fill="#fff"/>
<rect x="1300" y="373" width="1" height="31" fill="#000"/>
<rect x="1298" y="381" width="5" height="19" fill="#000"/>
<rect x="1308" y="382" width="1" height="26" fill="#000"/>
<rect x="1306" y="385" width="5" height="21" fill="#000"/>
<rect x="1316" y="384" width="1" height="17" fill="#000"/>
<rect x="1314" y="387" width="5" height="13" fill="#000"/>
<rect x="1315" y="388" width="3" height="11" fill="#fff"/>
<rect x="1324" y="374" width="1" height="27" fill="#000"/>
<rect x="1322" y="374" width="5" height="22" fill="#000"/>
<rect x="1332" y="358" width="1" height="34" fill="#000"/>
<rect x="1330" y="384" width="5" height="1" fill="#000"/>
<rect x="1340" y="346" width="1" height="24" fill="#000"/>
<rect x="1338" y="350" width="5" height="11" fill="#000"/>
<rect x="1348" y="344" width="1" height="15" fill="#000"/>
<rect x="1346" y="348" width="5" height="4" fill="#000"/>
<rect x="1347" y="349" width="3" height="2" fill="#fff"/>
<rect x="1356" y="323" width="1" height="30" fill="#000"/>
<rect x="1354" y="331" width="5" height="20" fill="#000"/>
<rect x="1355" y="332" width="3" height="18" fill="#fff"/>
<rect x="1364" y="328" width="1" height="16" fill="#000"/>
<rect x="1362" y="329" width="5" height="7" fill="#000"/>
<rect x="1372" y="321" width="1" height="22" fill="#000"/>
<rect x="1370" y="322" width="5" height="19" fill="#000"/>
<rect x="1380" y="291" width="1" height="41" fill="#000"/>
<rect x="1378" y="294" width="5" height="36" fill="#000"/>
<rect x="1379" y="295" width="3" height="34" fill="#fff"/>
<rect x="1388" y="293" width="1" height="1" fill="#000"/>
<rect x="1386" y="293" width="5" height="1" fill="#000"/>
<rect x="1396" y="285" width="1" height="23" fill="#000"/>
<rect x="1394" y="285" width="5" height="15" fill="#000"/>
<rect x="1404" y="301" width="1" height="39" fill="#000"/>
<rect x="1402" y="310" width="5" height="28" fill="#000"/>
<rect x="1412" y="312" width="1" height="17" fill="#000"/>
<rect x="1410" y="312" width="5" height="12" fill="#000"/>
<rect x="1411" y="313" width="3" height="10" fill="#fff"/>
<rect x="1420" y="288" width="1" height="23" fill="#000"/>
<rect x="1418" y="303" width="5" height="5" fill="#000"/>
<rect x="1419" y="304" width="3" height="3" fill="#fff"/>
<rect x="1428" y="301" width="1" height="10" fill="#000"/>
<rect x="1426" y="306" width="5" height="2" fill="#000"/>
<rect x="1436" y="278" width="1" height="23" fill="#000"/>
<rect x="1434" y="297" width="5" height="4" fill="#000"/>
<rect x="1435" y="298" width="3" height="2" fill="#fff"/>
<rect x="1444" y="281" width="1" height="20" fill="#000"/>
<rect x="1442" y="283" width="5" height="15" fill="#000"/>
<rect x="1443" y="284" width="3" height="13" fill="#fff"/>
</g>
<g clip-path="url(#c2)">
<rect x="4" y="630" width="1" height="28" fill="#c0c0c0"/>
<rect x="12" y="630" width="1" height="29" fill="#c0c0c0"/>
<rect x="20" y="630" width="1" height="32" fill="#c0c0c0"/>
<rect x="28" y="630" width="1" height="28" fill="#c0c0c0"/>
<rect x="36" y="630" width="1" height="24" fill="#c0c0c0"/>
<rect x="44" y="630" width="1" height="23" fill="#c0c0c0"/>
<rect x="52" y="630" width="1" height="20" fill="#c0c0c0"/>
<rect x="60" y="630" width="1" height="15" fill="#c0c0c0"/>
<rect x="68" y="630" width="1" height="13" fill="#c0c0c0"/>
<rect x="76" y="630" width="1" height="9" fill="#c0c0c0"/>
<rect x="84" y="630" width="1" height="6" fill="#c0c0c0"/>
<rect x="92" y="630" width="1" height="7" fill="#c0c0c0"/>
<rect x="100" y="630" width="1" height="5" fill="#c0c0c0"/>
<rect x="108" y="630" width="1" height="6" fill="#c0c0c0"/>
<rect x="116" y="630" width="1" height="8" fill="#c0c0c0"/>
<rect x="124" y="630" width="1" height="11" fill="#c0c0c0"/>
<rect x="132" y="630" width="1" height="14" fill="#c0c0c0"/>
<rect x="140" y="630" width="1" height="18" fill="#c0c0c0"/>
<rect x="148" y="630" width="1" height="20" fill="#c0c0c0"/>
<rect x="156" y="630" width="1" height="24" fill="#c0c0c0"/>
<rect x="164" y="630" width="1" height="28" fill="#c0c0c0"/>
<rect x="172" y="630" width="1" height="29" fill="#c0c0c0"/>
<rect x="180" y="630" width="1" height="31" fill="#c0c0c0"/>
<rect x="188" y="630" width="1" height="29" fill="#c0c0c0"/>
<rect x="196" y="630" width="1" height="29" fill="#c0c0c0"/>
<rect x="204" y="630" width="1" height="39" fill="#c0c0c0"/>
<rect x="212" y="630" width="1" height="43" fill="#c0c0c0"/>
<rect x="220" y="630" width="1" height="46" fill="#c0c0c0"/>
<rect x="228" y="630" width="1" height="55" fill="#c0c0c0"/>
<rect x="236" y="630" width="1" height="63" fill="#c0c0c0"/>
<rect x="244" y="630" width="1" height="78" fill="#c0c0c0"/>
<rect x="252" y="630" width="1" height="83" fill="#c0c0c0"/>
<rect x="260" y="630" width="1" height="96" fill="#c0c0c0"/>
<rect x="268" y="630" width="1" height="105" fill="#c0c0c0"/>
<rect x="276" y="630" width="1" height="103" fill="#c0c0c0"/>
<rect x="284" y="630" width="1" height="111" fill="#c0c0c0"/>
<rect x="292" y="630" width="1" height="107" fill="#c0c0c0"/>
<rect x="300" y="630" width="1" height="99" fill="#c0c0c0"/>
<rect x="308" y="630" width="1" height="93" fill="#c0c0c0"/>
<rect x="316" y="630" width="1" height="84" fill="#c0c0c0"/>
<rect x="324" y="630" width="1" height="79" fill="#c0c0c0"/>
<rect x="332" y="630" width="1" height="72" fill="#c0c0c0"/>
<rect x="340" y="630" width="1" height="69" fill="#c0c0c0"/>
<rect x="348" y="630" width="1" height="64" fill="#c0c0c0"/>
<rect x="356" y="630" width="1" height="59" fill="#c0c0c0"/>
<rect x="364" y="630" width="1" height="53" fill="#c0c0c0"/>
<rect x="372" y="630" width="1" height="43" fill="#c0c0c0"/>
<rect x="380" y="630" width="1" height="38" fill="#c0c0c0"/>
<rect x="388" y="630" width="1" height="31" fill="#c0c0c0"/>
<rect x="396" y="630" width="1" height="23" fill="#c0c0c0"/>
<rect x="404" y="630" width="1" height="19" fill="#c0c0c0"/>
<rect x="412" y="630" width="1" height="17" fill="#c0c0c0"/>
<rect x="420" y="630" width="1" height="13" fill="#c0c0c0"/>
<rect x="428" y="630" width="1" height="10" fill="#c0c0c0"/>
<rect x="436" y="630" width="1" height="10" fill="#c0c0c0"/>
<rect x="444" y="630" width="1" height="10" fill="#c0c0c0"/>
<rect x="452" y="630" width="1" height="9" fill="#c0c0c0"/>
<rect x="460" y="630" width="1" height="9" fill="#c0c0c0"/>
<rect x="468" y="630" width="1" height="7" fill="#c0c0c0"/>
<rect x="476" y="630" width="1" height="2" fill="#c0c0c0"/>
<rect x="484" y="629" width="1" height="2" fill="#c0c0c0"/>
<rect x="492" y="629" width="1" height="2" fill="#c0c0c0"/>
<rect x="500" y="629" width="1" height="2" fill="#c0c0c0"/>
<rect x="508" y="629" width="1" height="2" fill="#c0c0c0"/>
<rect x="516" y="629" width="1" height="2" fill="#c0c0c0"/>
<rect x="524" y="629" width="1" height="2" fill="#c0c0c0"/>
<rect x="532" y="628" width="1" height="3" fill="#c0c0c0"/>
<rect x="540" y="628" width="1" height="3" fill="#c0c0c0"/>
<rect x="548" y="628" width="1" height="3" fill="#c0c0c0"/>
<rect x="556" y="629" width="1" height="2" fill="#c0c0c0"/>
<rect x="564" y="630" width="1" height="2" fill="#c0c0c0"/>
<rect x="572" y="630" width="1" height="3" fill="#c0c0c0"/>
<rect x="580" y="629" width="1" height="2" fill="#c0c0c0"/>
<rect x="588" y="628" width="1" height="3" fill="#c0c0c0"/>
<rect x="596" y="628" width="1" height="3" fill="#c0c0c0"/>
<rect x="604" y="630" width="1" height="9" fill="#c0c0c0"/>
<rect x="612" y="630" width="1" height="14" fill="#c0c0c0"/>
<rect x="620" y="630" width="1" height="16" fill="#c0c0c0"/>
<rect x="628" y="630" width="1" height="19" fill="#c0c0c0"/>
<rect x="636" y="630" width="1" height="23" fill="#c0c0c0"/>
<rect x="644" y="630" width="1" height="26" fill="#c0c0c0"/>
<rect x="652" y="630" width="1" height="23" fill="#c0c0c0"/>
<rect x="660" y="630" width="1" height="18" fill="#c0c0c0"/>
<rect x="668" y="630" width="1" height="11" fill="#c0c0c0"/>
<rect x="676" y="630" width="1" height="6" fill="#c0c0c0"/>
<rect x="684" y="628" width="1" height="3" fill="#c0c0c0"/>
<rect x="692" y="623" width="1" height="8" fill="#c0c0c0"/>
<rect x="700" y="618" width="1" height="13" fill="#c0c0c0"/>
<rect x="708" y="613" width="1" height="18" fill="#c0c0c0"/>
<rect x="716" y="613" width="1" height="18" fill="#c0c0c0"/>
<rect x="724" y="614" width="1" height="17" fill="#c0c0c0"/>
<rect x="732" y="619" width="1" height="12" fill="#c0c0c0"/>
<rect x="740" y="620" width="1" height="11" fill="#c0c0c0"/>
<rect x="748" y="618" width="1" height="13" fill="#c0c0c0"/>
<rect x="756" y="618" width="1" height="13" fill="#c0c0c0"/>
<rect x="764" y="617" width="1" height="14" fill="#c0c0c0"/>
<rect x="772" y="618" width="1" height="13" fill="#c0c0c0"/>
<rect x="780" y="616" width="1" height="15" fill="#c0c0c0"/>
<rect x="788" y="614" width="1" height="17" fill="#c0c0c0"/>
<rect x="796" y="618" width="1" height="13" fill="#c0c0c0"/>
<rect x="804" y="620" width="1" height="11" fill="#c0c0c0"/>
<rect x="812" y="622" width="1" height="9" fill="#c0c0c0"/>
<rect x="820" y="617" width="1" height="14" fill="#c0c0c0"/>
<rect x="828" y="612" width="1" height="19" fill="#c0c0c0"/>
<rect x="836" y="603" width="1" height="28" fill="#c0c0c0"/>
<rect x="844" y="598" width="1" height="33" fill="#c0c0c0"/>
<rect x="852" y="593" width="1" height="38" fill="#c0c0c0"/>
<rect x="860" y="589" width="1" height="42" fill="#c0c0c0"/>
<rect x="868" y="590" width="1" height="41" fill="#c0c0c0"/>
<rect x="876" y="591" width="1" height="40" fill="#c0c0c0"/>
<rect x="884" y="593" width="1" height="38" fill="#c0c0c0"/>
<rect x="892" y="596" width="1" height="35" fill="#c0c0c0"/>
<rect x="900" y="602" width="1" height="29" fill="#c0c0c0"/>
<rect x="908" y="606" width="1" height="25" fill="#c0c0c0"/>
<rect x="916" y="610" width="1" height="21" fill="#c0c0c0"/>
<rect x="924" y="609" width="1" height="22" fill="#c0c0c0"/>
<rect x="932" y="613" width="1" height="18" fill="#c0c0c0"/>
<rect x="940" y="615" width="1" height="16" fill="#c0c0c0"/>
<rect x="948" y="620" width="1" height="11" fill="#c0c0c0"/>
<rect x="956" y="625" width="1" height="6" fill="#c0c0c0"/>
<rect x="964" y="628" width="1" height="3" fill="#c0c0c0"/>
<rect x="972" y="629" width="1" height="2" fill="#c0c0c0"/>
<rect x="980" y="630" width="1" height="1" fill="#c0c0c0"/>
<rect x="988" y="630" width="1" height="4" fill="#c0c0c0"/>
<rect x="996" y="630" width="1" height="8" fill="#c0c0c0"/>
<rect x="1004" y="630" width="1" height="7" fill="#c0c0c0"/>
<rect x="1012" y="630" width="1" height="5" fill="#c0c0c0"/>
<rect x="1020" y="630" width="1" height="4" fill="#c0c0c0"/>
<rect x="1028" y="630" width="1" height="8" fill="#c0c0c0"/>
<rect x="1036" y="630" width="1" height="9" fill="#c0c0c0"/>
<rect x="1044" y="630" width="1" height="7" fill="#c0c0c0"/>
<rect x="1052" y="630" width="1" height="4" fill="#c0c0c0"/>
<rect x="1060" y="630" width="1" height="2" fill="#c0c0c0"/>
<rect x="1068" y="630" width="1" height="1" fill="#c0c0c0"/>
<rect x="1076" y="628" width="1" height="3" fill="#c0c0c0"/>
<rect x="1084" y="626" width="1" height="5" fill="#c0c0c0"/>
<rect x="1092" y="626" width="1" height="5" fill="#c0c0c0"/>
<rect x="1100" y="628" width="1" height="3" fill="#c0c0c0"/>
<rect x="1108" y="628" width="1" height="3" fill="#c0c0c0"/>
<rect x="1116" y="625" width="1" height="6" fill="#c0c0c0"/>
<rect x="1124" y="625" width="1" height="6" fill="#c0c0c0"/>
<rect x="1132" y="623" width="1" height="8" fill="#c0c0c0"/>
<rect x="1140" y="623" width="1" height="8" fill="#c0c0c0"/>
<rect x="1148" y="622" width="1" height="9" fill="#c0c0c0"/>
<rect x="1156" y="624" width="1" height="7" fill="#c0c0c0"/>
<rect x="1164" y="625" width="1" height="6" fill="#c0c0c0"/>
<rect x="1172" y="627" width="1" height="4" fill="#c0c0c0"/>
<rect x="1180" y="629" width="1" height="2" fill="#c0c0c0"/>
<rect x="1188" y="630" width="1" height="1" fill="#c0c0c0"/>
<rect x="1196" y="630" width="1" height="5" fill="#c0c0c0"/>
<rect x="1204" y="630" width="1" height="8" fill="#c0c0c0"/>
<rect x="1212" y="630" width="1" height="10" fill="#c0c0c0"/>
<rect x="1220" y="630" width="1" height="13" fill="#c0c0c0"/>
<rect x="1228" y="630" width="1" height="14" fill="#c0c0c0"/>
<rect x="1236" y="630" width="1" height="14" fill="#c0c0c0"/>
<rect x="1244" y="630" width="1" height="12" fill="#c0c0c0"/>
<rect x="1252" y="630" width="1" height="11" fill="#c0c0c0"/>
<rect x="1260" y="630" width="1" height="13" fill="#c0c0c0"/>
<rect x="1268" y="630" width="1" height="14" fill="#c0c0c0"/>
<rect x="1276" y="630" width="1" height="17" fill="#c0c0c0"/>
<rect x="1284" y="630" width="1" height="22" fill="#c0c0c0"/>
<rect x="1292" y="630" width="1" height="25" fill="#c0c0c0"/>
<rect x="1300" y="630" width="1" height="29" fill="#c0c0c0"/>
<rect x="1308" y="630" width="1" height="34" fill="#c0c0c0"/>
<rect x="1316" y="630" width="1" height="35" fill="#c0c0c0"/>
<rect x="1324" y="630" width="1" height="36" fill="#c0c0c0"/>
<rect x="1332" y="630" width="1" height="37" fill="#c0c0c0"/>
<rect x="1340" y="630" width="1" height="33" fill="#c0c0c0"/>
<rect x="1348" y="630" width="1" height="28" fill="#c0c0c0"/>
<rect x="1356" y="630" width="1" height="24" fill="#c0c0c0"/>
<rect x="1364" y="630" width="1" height="20" fill="#c0c0c0"/>
<rect x="1372" y="630" width="1" height="15" fill="#c0c0c0"/>
<rect x="1380" y="630" width="1" height="10" fill="#c0c0c0"/>
<rect x="1388" y="630" width="1" height="6" fill="#c0c0c0"/>
<rect x="1396" y="630" width="1" height="3" fill="#c0c0c0"/>
<rect x="1404" y="630" width="1" height="3" fill="#c0c0c0"/>
<rect x="1412" y="630" width="1" height="2" fill="#c0c0c0"/>
<rect x="1420" y="630" width="1" height="1" fill="#c0c0c0"/>
<rect x="1428" y="628" width="1" height="3" fill="#c0c0c0"/>
<rect x="1436" y="627" width="1" height="4" fill="#c0c0c0"/>
<rect x="1444" y="623" width="1" height="8" fill="#c0c0c0"/>
<polyline points="0.0,618.3 10.0,628.3 20.0,636.7 33.3,646.7 46.7,652.3 61.7,654.3 80.0,651.0 100.0,643.3 116.7,639.0 133.3,638.3 150.0,641.0 166.7,646.0 183.3,651.0 200.0,655.0 216.7,661.7 233.3,668.3 250.0,681.0 266.7,697.7 281.4,709.5 288.3,715.7 294.3,720.6 300.5,724.1 306.4,726.5 312.3,727.9 318.6,728.4 324.5,727.6 330.4,725.8 336.3,723.4 342.3,720.3 348.5,716.4 354.4,712.6 360.3,708.4 366.3,703.6 372.5,698.7 378.8,693.5 383.7,690.3 400.0,678.3 416.7,665.0 433.3,653.3 450.0,645.7 466.7,641.7 483.3,637.7 500.0,636.0 516.7,635.0 533.3,633.3 550.0,632.3 560.0,632.7 580.0,632.3 596.7,631.0 610.0,633.3 626.7,636.7 643.3,641.0 660.0,645.7 670.0,647.3 686.7,645.0 703.3,637.7 716.7,629.3 730.0,623.3 743.3,619.3 760.0,617.0 776.7,616.3 793.3,617.3 810.0,617.7 826.7,617.0 836.7,615.0 846.7,611.0 860.0,607.3 873.3,602.3 886.7,597.0 896.7,595.0 906.7,594.3 916.7,595.7 926.7,598.3 936.7,601.0 946.7,605.7 960.0,611.0 973.3,616.7 986.7,621.7 1000.0,626.7 1010.0,629.3 1026.7,632.3 1040.0,635.0 1053.3,636.7 1066.7,635.7 1080.0,634.0 1093.3,632.3 1106.7,630.0 1120.0,627.7 1133.3,625.7 1153.3,624.3 1170.0,623.7 1183.3,623.7 1196.7,625.0 1210.0,627.7 1223.3,632.3 1236.7,636.0 1253.3,639.0 1270.0,641.7 1286.7,644.3 1300.0,646.0 1313.3,650.0 1326.7,655.0 1340.0,659.3 1353.3,660.7 1366.7,660.0 1380.0,657.7 1393.3,652.3 1406.7,645.7 1420.0,640.0 1433.3,636.0 1443.3,631.0" fill="none" stroke="#ff0000" stroke-width="1" stroke-dasharray="3 3"/>
</g>
<g clip-path="url(#c3)">
<line x1="-5" y1="787.5" x2="1678" y2="787.5" stroke="#c0c0c0" stroke-width="1" stroke-dasharray="3 3"/>
<line x1="-5" y1="838.5" x2="1678" y2="838.5" stroke="#c0c0c0" stroke-width="1" stroke-dasharray="3 3"/>
<line x1="-5" y1="899.5" x2="1678" y2="899.5" stroke="#c0c0c0" stroke-width="1" stroke-dasharray="3 3"/>
<path d="M231 877.5h4M1307 877.5h2M675 828.5h2M764 828.5h2M884 828.5h3M1083 828.5h2M1123 828.5h10M1434 828.5h2M58 834.5h2M62 834.5h3M75 834.5h4M471 834.5h2M661 834.5h2M721 834.5h2M790 834.5h2M1047 834.5h2M1063 834.5h4M1069 834.5h2M1414 834.5h2M479 831.5h4M587 831.5h2M666 831.5h2M759 831.5h2M770 831.5h2M1054 831.5h3M1074 831.5h2M1420 831.5h10M849 814.5h6M96 840.5h2M104 840.5h2M384 840.5h2M409 840.5h4M449 840.5h5M513 840.5h2M518 840.5h3M549 840.5h2M808 840.5h2M901 840.5h2M1174 840.5h2M1367 840.5h4M162 862.5h2M177 862.5h2M214 862.5h2M60 833.5h2M79 833.5h4M580 833.5h3M663 833.5h2M718 833.5h3M740 833.5h5M753 833.5h4M788 833.5h2M1059 833.5h4M1071 833.5h2M1416 833.5h2M124 859.5h2M140 859.5h2M604 859.5h2M1215 859.5h2M305 851.5h2M310 851.5h3M320 851.5h2M342 851.5h2M626 851.5h2M994 851.5h2M1190 851.5h2M1232 851.5h2M158 864.5h2M218 864.5h2M3 872.5h2M83 832.5h2M483 832.5h2M533 832.5h2M583 832.5h4M589 832.5h2M716 832.5h2M745 832.5h8M757 832.5h2M1057 832.5h2M1089 832.5h2M1418 832.5h2M1284 869.5h3M1323 869.5h2M156 865.5h2M276 865.5h2M1277 865.5h2M671 829.5h4M762 829.5h2M766 829.5h2M887 829.5h4M1079 829.5h4M1085 829.5h2M1432 829.5h2M260 886.5h5M705 818.5h2M348 848.5h5M357 848.5h2M492 848.5h3M621 848.5h2M955 848.5h3M987 848.5h3M35 844.5h3M111 844.5h2M565 844.5h2M964 844.5h3M976 844.5h2M94 841.5h2M106 841.5h2M382 841.5h2M433 841.5h2M443 841.5h6M454 841.5h2M463 841.5h2M503 841.5h2M515 841.5h3M570 841.5h2M802 841.5h2M806 841.5h2M1176 841.5h2M1244 841.5h3M1351 841.5h2M1371 841.5h2M54 836.5h2M67 836.5h4M392 836.5h2M399 836.5h2M418 836.5h2M423 836.5h4M794 836.5h2M908 836.5h2M937 836.5h2M1009 836.5h2M1013 836.5h2M132 855.5h2M641 855.5h4M1201 855.5h6M98 839.5h2M102 839.5h2M386 839.5h2M404 839.5h5M413 839.5h2M506 839.5h2M510 839.5h3M521 839.5h2M547 839.5h2M799 839.5h2M810 839.5h2M903 839.5h2M914 839.5h2M1017 839.5h2M1156 839.5h18M1363 839.5h4M100 838.5h2M388 838.5h2M402 838.5h2M415 838.5h2M429 838.5h2M508 838.5h2M523 838.5h2M543 838.5h4M797 838.5h2M912 838.5h2M932 838.5h2M1004 838.5h2M1359 838.5h4M300 849.5h2M315 849.5h3M346 849.5h2M353 849.5h4M623 849.5h2M990 849.5h2M1033 849.5h4M1341 849.5h2M699 820.5h3M827 820.5h2M1279 866.5h2M1316 866.5h2M1327 866.5h2M1 871.5h2M169 860.5h5M56 835.5h2M65 835.5h2M71 835.5h4M394 835.5h2M397 835.5h2M420 835.5h3M527 835.5h2M537 835.5h2M593 835.5h2M723 835.5h2M792 835.5h2M939 835.5h2M1011 835.5h2M1067 835.5h2M1143 835.5h2M1412 835.5h2M164 861.5h5M174 861.5h3M212 861.5h2M1218 861.5h2M42 847.5h2M333 847.5h2M951 847.5h4M958 847.5h2M983 847.5h4M28 842.5h3M92 842.5h2M380 842.5h2M439 842.5h4M456 842.5h2M501 842.5h2M804 842.5h2M971 842.5h3M1178 842.5h2M1247 842.5h4M40 846.5h2M114 846.5h2M948 846.5h3M960 846.5h2M980 846.5h3M1183 846.5h2M1345 846.5h2M307 852.5h3M322 852.5h2M340 852.5h2M628 852.5h3M1192 852.5h2M1230 852.5h2M1263 852.5h2M677 827.5h2M882 827.5h2M1119 827.5h4M1436 827.5h2M160 863.5h2M179 863.5h2M216 863.5h2M631 853.5h4M1194 853.5h2M1228 853.5h2M1261 853.5h2M707 817.5h2M38 845.5h2M361 845.5h2M497 845.5h2M556 845.5h9M962 845.5h2M978 845.5h2M17 857.5h4M128 857.5h2M136 857.5h2M144 857.5h2M609 857.5h2M1211 857.5h2M52 837.5h2M390 837.5h2M427 837.5h2M540 837.5h3M575 837.5h2M906 837.5h2M910 837.5h2M934 837.5h3M1006 837.5h3M1356 837.5h3M476 830.5h3M668 830.5h3M768 830.5h2M891 830.5h2M1052 830.5h2M1076 830.5h3M1430 830.5h2M126 858.5h2M138 858.5h2M142 858.5h2M606 858.5h3M1213 858.5h2M695 821.5h4M823 821.5h4M245 885.5h2M258 885.5h2M873 823.5h4M1385 823.5h5M681 824.5h2M868 824.5h5M877 824.5h2M1380 824.5h5M1390 824.5h2M1442 824.5h2M302 850.5h3M313 850.5h2M318 850.5h2M327 850.5h2M337 850.5h2M344 850.5h2M992 850.5h2M1028 850.5h5M1188 850.5h2M1234 850.5h2M1266 850.5h2M1116 826.5h3M1394 826.5h2M1438 826.5h2M31 843.5h4M109 843.5h2M436 843.5h3M458 843.5h2M553 843.5h2M567 843.5h2M967 843.5h4M974 843.5h2M1251 843.5h2M235 878.5h2M283 875.5h2M1300 875.5h3M859 812.5h2M844 815.5h5M1282 868.5h2M1287 868.5h4M1321 868.5h2M635 854.5h6M1196 854.5h5M12 856.5h5M130 856.5h2M134 856.5h2M146 856.5h2M611 856.5h2M1207 856.5h4M684 822.5h11M820 822.5h3M265 887.5h4M879 825.5h2M1392 825.5h2M1440 825.5h2M255 883.5h2M247 884.5h2M228 876.5h3M1303 876.5h4M1291 867.5h2M1318 867.5h3M702 819.5h3M250 882.5h2M253 882.5h2M855 813.5h4M271.5 877v3M211.5 862v2M195.5 858v2M198.5 863v2M1297.5 872v1M815.5 831v2M207.5 869v2M199.5 865v2M947.5 844v2M1112.5 831v2M613.5 855v1M465.5 840v1M9.5 862v2M1339.5 851v2M221.5 866v2M224.5 870v2M1020.5 841v1M225.5 872v1M1046.5 835v1M491.5 846v2M1099.5 845v2M85.5 833v1M1115.5 827v2M1100.5 847v1M1000.5 845v1M709.5 818v2M469.5 836v1M996.5 852v1M598.5 842v2M1314.5 869v1M1106.5 839v2M1220.5 862v1M928.5 833v1M867.5 822v2M604.5 858v1M1338.5 853v1M920.5 834v1M239.5 881v1M487.5 838v2M123.5 857v2M187.5 848v2M197.5 861v2M726.5 837v2M999.5 846v2M923.5 829v2M373.5 835v1M369.5 837v1M536.5 834v1M783.5 827v1M364.5 843v1M227.5 874v2M574.5 838v1M292.5 859v2M87.5 836v1M818.5 825v2M88.5 837v1M737.5 837v2M710.5 820v2M1275.5 862v2M379.5 841v1M599.5 844v3M733.5 843v2M1154.5 837v1M181.5 860v2M930.5 835v2M295.5 855v1M1237.5 848v1M779.5 824v1M656.5 839v1M486.5 836v2M291.5 861v2M774.5 830v1M1268.5 849v1M736.5 839v1M1271.5 854v2M287.5 869v2M728.5 840v1M881.5 826v1M462.5 842v1M10.5 860v2M1217.5 860v1M781.5 824v1M530.5 833v1M1241.5 844v1M660.5 835v1M6.5 868v2M1401.5 837v2M1404.5 843v1M683.5 823v1M89.5 838v1M1293.5 868v1M48.5 842v2M1111.5 833v1M1039.5 844v2M831.5 815v1M286.5 871v2M1221.5 861v1M366.5 841v1M108.5 842v1M336.5 849v1M484.5 833v1M1334.5 859v1M270.5 880v3M149.5 856v1M1270.5 852v2M1376.5 832v2M1073.5 832v1M205.5 873v2M730.5 842v2M1224.5 857v2M761.5 830v1M712.5 824v2M1372.5 840v1M601.5 850v3M297.5 853v1M1023.5 844v1M1402.5 839v2M122.5 856v1M1403.5 841v2M475.5 831v1M1353.5 840v1M1333.5 860v2M269.5 883v3M201.5 869v2M893.5 831v2M894.5 833v1M946.5 843v1M241.5 883v1M242.5 884v1M573.5 839v1M840.5 811v1M657.5 838v1M817.5 827v2M189.5 848v2M190.5 850v2M1041.5 841v2M1265.5 851v1M732.5 845v1M711.5 822v2M649.5 847v2M600.5 847v3M113.5 845v1M645.5 853v2M1044.5 837v1M836.5 807v1M1379.5 826v2M680.5 825v1M470.5 835v1M200.5 867v2M895.5 834v1M832.5 813v2M1253.5 844v2M896.5 835v2M417.5 837v1M899.5 839v2M461.5 843v1M648.5 849v1M243.5 885v1M1397.5 829v2M244.5 886v1M782.5 825v2M188.5 847v1M191.5 852v1M210.5 864v2M325.5 852v1M86.5 834v2M192.5 853v2M1332.5 862v1M1378.5 828v2M153.5 861v1M206.5 871v2M1374.5 836v2M1225.5 856v1M1343.5 848v1M370.5 836v1M925.5 829v1M1027.5 849v1M1091.5 833v1M1134.5 830v2M1092.5 834v1M401.5 837v1M24.5 849v2M488.5 840v2M917.5 838v2M572.5 840v1M897.5 837v1M183.5 856v2M898.5 838v1M296.5 854v1M1019.5 840v1M780.5 823v1M339.5 851v1M331.5 847v1M1087.5 830v1M1088.5 831v1M23.5 851v2M916.5 840v1M772.5 832v1M182.5 858v2M551.5 841v1M1148.5 831v1M927.5 832v1M277.5 866v1M1242.5 843v1M460.5 844v1M238.5 880v1M1015.5 837v1M1405.5 842v1M578.5 835v1M1094.5 837v2M273.5 872v3M618.5 849v1M1045.5 836v1M1298.5 873v1M1003.5 839v2M1040.5 843v1M653.5 842v1M148.5 855v1M1272.5 856v2M813.5 835v2M596.5 837v2M1021.5 842v1M1409.5 838v1M1313.5 870v1M226.5 873v1M1105.5 841v1M272.5 875v2M786.5 830v2M90.5 839v2M1002.5 841v2M679.5 826v1M998.5 848v2M466.5 839v1M203.5 873v2M812.5 837v2M276.5 864v1M279.5 868v2M929.5 834v1M1016.5 838v1M1103.5 843v1M116.5 847v1M922.5 831v1M240.5 882v1M1312.5 871v2M838.5 809v1M5.5 870v2M324.5 853v1M839.5 810v1M359.5 847v1M1331.5 863v1M150.5 857v2M1001.5 843v2M944.5 840v2M713.5 826v2M997.5 850v2M1145.5 834v1M784.5 828v1M921.5 832v2M785.5 829v1M739.5 834v2M1349.5 843v1M655.5 840v1M650.5 846v1M735.5 840v2M931.5 837v1M281.5 871v2M1136.5 833v1M1399.5 833v2M1396.5 827v2M529.5 834v1M776.5 827v2M841.5 812v1M619.5 848v1M151.5 859v1M152.5 860v1M505.5 840v1M1025.5 847v1M577.5 836v1M1026.5 848v1M1238.5 847v1M1294.5 869v1M592.5 834v1M1344.5 847v1M1375.5 834v2M1109.5 835v2M368.5 838v2M1051.5 831v1M539.5 836v1M862.5 815v1M863.5 816v2M1104.5 842v1M1398.5 831v2M866.5 821v1M1336.5 856v1M363.5 844v1M474.5 832v1M47.5 844v1M196.5 860v1M154.5 862v2M252.5 881v1M332.5 846v1M367.5 840v1M796.5 837v1M1142.5 836v1M4.5 873v1M1335.5 857v2M496.5 846v1M1093.5 835v2M1096.5 840v2M773.5 831v1M489.5 842v2M1350.5 842v1M1296.5 871v1M1274.5 860v2M1255.5 847v1M1153.5 836v1M1373.5 838v2M864.5 818v1M579.5 834v1M865.5 819v2M1240.5 845v1M396.5 834v1M0.5 870v1M526.5 836v1M654.5 841v1M194.5 856v2M734.5 842v1M12.5 857v1M727.5 839v1M1410.5 837v1M8.5 864v2M1133.5 829v1M1098.5 843v2M658.5 837v1M490.5 844v2M837.5 808v1M209.5 866v2M288.5 867v2M1114.5 829v1M46.5 845v1M467.5 838v1M1273.5 858v2M942.5 838v1M1257.5 850v1M1325.5 868v1M257.5 884v1M900.5 841v1M597.5 839v3M11.5 858v2M1155.5 838v1M801.5 840v1M603.5 855v3M532.5 831v1M7.5 866v2M1337.5 854v2M843.5 814v1M1102.5 844v2M186.5 850v2M45.5 846v2M1108.5 837v1M249.5 883v1M117.5 848v2M1135.5 832v1M919.5 835v2M473.5 833v1M435.5 842v1M569.5 842v1M595.5 836v1M1259.5 852v2M371.5 835v1M275.5 866v3M602.5 853v2M1141.5 837v1M819.5 823v2M777.5 826v1M1024.5 845v2M485.5 834v2M294.5 856v2M495.5 847v1M1355.5 838v1M835.5 808v2M290.5 863v2M617.5 850v1M431.5 839v1M1149.5 832v1M202.5 871v2M731.5 844v1M591.5 833v1M278.5 867v1M647.5 850v2M282.5 873v1M274.5 869v3M335.5 848v1M118.5 850v1M1239.5 846v1M861.5 813v2M119.5 851v2M1137.5 834v1M1138.5 835v2M525.5 837v1M1236.5 849v1M1186.5 848v1M1299.5 874v1M834.5 810v2M289.5 865v2M616.5 851v2M1038.5 846v1M715.5 830v2M830.5 816v2M285.5 873v2M646.5 852v1M1243.5 842v1M1022.5 843v1M1315.5 867v2M27.5 843v2M1107.5 838v1M220.5 865v1M1406.5 841v1M787.5 832v1M1181.5 844v1M50.5 840v1M91.5 841v1M1182.5 845v1M208.5 868v1M1113.5 830v1M833.5 812v1M1330.5 864v1M204.5 875v1M376.5 838v1M1340.5 850v1M280.5 870v1M1151.5 834v1M1223.5 859v1M1254.5 846v1M1037.5 847v2M829.5 818v2M1152.5 835v1M284.5 876v1M120.5 853v1M665.5 832v1M330.5 848v1M121.5 854v2M26.5 845v2M1139.5 837v1M1140.5 838v1M1309.5 875v2M1101.5 846v1M1348.5 844v1M193.5 855v1M44.5 848v1M714.5 828v2M299.5 850v1M25.5 847v2M778.5 825v1M492.5 849v1M21.5 855v2M816.5 829v2M652.5 843v1M184.5 854v2M378.5 840v1M941.5 836v2M1256.5 848v2M926.5 830v2M1146.5 833v1M298.5 851v2M500.5 843v1M659.5 836v1M293.5 858v1M738.5 836v1M1354.5 839v1M842.5 813v1M1043.5 838v2M651.5 844v2M1050.5 832v1M1311.5 873v1M1095.5 839v1M51.5 838v2M620.5 847v1M814.5 833v2M1377.5 830v2M615.5 853v1M1276.5 864v1M555.5 844v1M1258.5 851v1M360.5 846v1M49.5 841v1M155.5 864v1M1269.5 850v2M1329.5 865v1M725.5 836v1M1227.5 854v1M372.5 834v1M1222.5 860v1M535.5 833v1M329.5 849v1M1097.5 842v1M1185.5 847v1M22.5 853v2M1347.5 845v1M185.5 852v2M945.5 842v1M1260.5 854v1M625.5 850v1M1180.5 843v1M1281.5 867v1M374.5 836v1M614.5 854v1M552.5 842v1M375.5 837v1M1150.5 833v1M1407.5 840v1M499.5 844v1M1400.5 835v2M1042.5 840v1M1187.5 849v1M943.5 839v1M1411.5 836v1M1049.5 833v1M1310.5 874v1M1380.5 825v1M468.5 837v1M905.5 838v1M729.5 841v1M1444.5 823v1M1326.5 867v1M1110.5 834v1M377.5 839v1M924.5 828v1M326.5 851v1M365.5 842v1M1295.5 870v1M268.5 886v1M1226.5 855v1M1147.5 832v1M222.5 868v1M918.5 837v1M223.5 869v1M775.5 829v1M432.5 840v1M180.5 862v1M283.5 874v1M531.5 832v1M1408.5 839v1M237.5 879v1" fill="none" stroke="#1e90ff" stroke-width="1"/>
</g>
<rect x="1679" y="46" width="2" height="1" fill="#000"/>
<rect x="1679" y="79" width="2" height="1" fill="#000"/>
<rect x="1679" y="112" width="2" height="1" fill="#000"/>
<rect x="1679" y="145" width="2" height="1" fill="#000"/>
<rect x="1679" y="178" width="2" height="1" fill="#000"/>
<rect x="1679" y="211" width="2" height="1" fill="#000"/>
<rect x="1679" y="244" width="2" height="1" fill="#000"/>
<rect x="1679" y="277" width="2" height="1" fill="#000"/>
<rect x="1679" y="343" width="2" height="1" fill="#000"/>
<rect x="1679" y="376" width="2" height="1" fill="#000"/>
<rect x="1679" y="409" width="2" height="1" fill="#000"/>
<rect x="1679" y="442" width="2" height="1" fill="#000"/>
<rect x="1679" y="475" width="2" height="1" fill="#000"/>
<rect x="1679" y="508" width="2" height="1" fill="#000"/>
<rect x="1679" y="541" width="2" height="1" fill="#000"/>
<rect x="1679" y="574" width="2" height="1" fill="#000"/>
<rect x="1679" y="581" width="1" height="1" fill="#000"/>
<rect x="1679" y="630" width="1" height="1" fill="#000"/>
<rect x="1679" y="748" width="1" height="1" fill="#000"/>
<rect x="1679" y="753" width="1" height="1" fill="#000"/>
<rect x="1679" y="924" width="1" height="1" fill="#000"/>
<rect x="52" y="926" width="1" height="4" fill="#000"/>
<rect x="116" y="926" width="1" height="4" fill="#000"/>
<rect x="180" y="926" width="1" height="4" fill="#000"/>
<rect x="244" y="926" width="1" height="4" fill="#000"/>
<rect x="308" y="926" width="1" height="4" fill="#000"/>
<rect x="372" y="926" width="1" height="4" fill="#000"/>
<rect x="436" y="926" width="1" height="4" fill="#000"/>
<rect x="500" y="926" width="1" height="4" fill="#000"/>
<rect x="564" y="926" width="1" height="4" fill="#000"/>
<rect x="628" y="926" width="1" height="4" fill="#000"/>
<rect x="692" y="926" width="1" height="4" fill="#000"/>
<rect x="756" y="926" width="1" height="4" fill="#000"/>
<rect x="820" y="926" width="1" height="4" fill="#000"/>
<rect x="884" y="926" width="1" height="4" fill="#000"/>
<rect x="948" y="926" width="1" height="4" fill="#000"/>
<rect x="1012" y="926" width="1" height="4" fill="#000"/>
<rect x="1076" y="926" width="1" height="4" fill="#000"/>
<rect x="1140" y="926" width="1" height="4" fill="#000"/>
<rect x="1204" y="926" width="1" height="4" fill="#000"/>
<rect x="1268" y="926" width="1" height="4" fill="#000"/>
<rect x="1332" y="926" width="1" height="4" fill="#000"/>
<rect x="1396" y="926" width="1" height="4" fill="#000"/>
</g>
<g font-size="10.2" fill="#000">
<text x="1684" y="50" textLength="33" lengthAdjust="spacingAndGlyphs">28074.0</text>
<text x="1684" y="83" textLength="33" lengthAdjust="spacingAndGlyphs">27615.0</text>
<text x="1684" y="116" textLength="33" lengthAdjust="spacingAndGlyphs">27169.5</text>
<text x="1684" y="149" textLength="33" lengthAdjust="spacingAndGlyphs">26710.5</text>
<text x="1684" y="182" textLength="33" lengthAdjust="spacingAndGlyphs">26265.0</text>
<text x="1684" y="215" textLength="33" lengthAdjust="spacingAndGlyphs">25806.0</text>
<text x="1684" y="248" textLength="33" lengthAdjust="spacingAndGlyphs">25360.5</text>
<text x="1684" y="281" textLength="33" lengthAdjust="spacingAndGlyphs">24901.5</text>
<text x="1684" y="347" textLength="33" lengthAdjust="spacingAndGlyphs">23997.0</text>
<text x="1684" y="380" textLength="33" lengthAdjust="spacingAndGlyphs">23538.0</text>
<text x="1684" y="413" textLength="33" lengthAdjust="spacingAndGlyphs">23092.5</text>
<text x="1684" y="446" textLength="33" lengthAdjust="spacingAndGlyphs">22633.5</text>
<text x="1684" y="479" textLength="33" lengthAdjust="spacingAndGlyphs">22174.5</text>
<text x="1684" y="512" textLength="33" lengthAdjust="spacingAndGlyphs">21729.0</text>
<text x="1684" y="545" textLength="33" lengthAdjust="spacingAndGlyphs">21270.0</text>
<text x="1684" y="578" textLength="33" lengthAdjust="spacingAndGlyphs">20824.5</text>
<text x="1682.3" y="590" textLength="27" lengthAdjust="spacingAndGlyphs">596.11</text>
<text x="1682.3" y="634" textLength="17.6" lengthAdjust="spacingAndGlyphs">0.00</text>
<text x="1682" y="746" textLength="37" lengthAdjust="spacingAndGlyphs">-1415.19</text>
<text x="1682" y="762" textLength="15" lengthAdjust="spacingAndGlyphs">100</text>
<text x="1681" y="791" textLength="10" lengthAdjust="spacingAndGlyphs">80</text>
<text x="1681" y="842" textLength="10" lengthAdjust="spacingAndGlyphs">50</text>
<text x="1681" y="903" textLength="10" lengthAdjust="spacingAndGlyphs">15</text>
<text x="1682" y="922" textLength="5" lengthAdjust="spacingAndGlyphs">0</text>
<text x="-12.3" y="939" textLength="50" lengthAdjust="spacingAndGlyphs">30 Jan 2020</text>
<text x="51.7" y="939" textLength="51.4" lengthAdjust="spacingAndGlyphs">11 Feb 2020</text>
<text x="115.7" y="939" textLength="51.3" lengthAdjust="spacingAndGlyphs">21 Feb 2020</text>
<text x="179.7" y="939" textLength="46.4" lengthAdjust="spacingAndGlyphs">4 Mar 2020</text>
<text x="243.7" y="939" textLength="51.3" lengthAdjust="spacingAndGlyphs">16 Mar 2020</text>
<text x="307.7" y="939" textLength="51.3" lengthAdjust="spacingAndGlyphs">26 Mar 2020</text>
<text x="371.7" y="939" textLength="45.4" lengthAdjust="spacingAndGlyphs">7 Apr 2020</text>
<text x="435.7" y="939" textLength="50.8" lengthAdjust="spacingAndGlyphs">21 Apr 2020</text>
<text x="499.7" y="939" textLength="49.4" lengthAdjust="spacingAndGlyphs">5 May 2020</text>
<text x="563.7" y="939" textLength="54.8" lengthAdjust="spacingAndGlyphs">15 May 2020</text>
<text x="627.7" y="939" textLength="54.8" lengthAdjust="spacingAndGlyphs">27 May 2020</text>
<text x="691.7" y="939" textLength="44.4" lengthAdjust="spacingAndGlyphs">8 Jun 2020</text>
<text x="755.7" y="939" textLength="48.9" lengthAdjust="spacingAndGlyphs">18 Jun 2020</text>
<text x="819.7" y="939" textLength="41.6" lengthAdjust="spacingAndGlyphs">2 Jul 2020</text>
<text x="883.7" y="939" textLength="46.6" lengthAdjust="spacingAndGlyphs">14 Jul 2020</text>
<text x="947.7" y="939" textLength="46.6" lengthAdjust="spacingAndGlyphs">24 Jul 2020</text>
<text x="1011.7" y="939" textLength="47.6" lengthAdjust="spacingAndGlyphs">5 Aug 2020</text>
<text x="1075.7" y="939" textLength="52.2" lengthAdjust="spacingAndGlyphs">17 Aug 2020</text>
<text x="1139.7" y="939" textLength="52.2" lengthAdjust="spacingAndGlyphs">27 Aug 2020</text>
<text x="1203.7" y="939" textLength="46.1" lengthAdjust="spacingAndGlyphs">8 Sep 2020</text>
<text x="1267.7" y="939" textLength="51.7" lengthAdjust="spacingAndGlyphs">18 Sep 2020</text>
<text x="1331.7" y="939" textLength="51.7" lengthAdjust="spacingAndGlyphs">30 Sep 2020</text>
<text x="1395.7" y="939" textLength="50.2" lengthAdjust="spacingAndGlyphs">14 Oct 2020</text>
<text x="3.500" y="36" textLength="50" lengthAdjust="spacingAndGlyphs">HK50-,Daily</text>
<text x="60" y="36" textLength="141" lengthAdjust="spacingAndGlyphs">24605.0 24839.0 24516.5 24815.5</text>
<text x="-7.5" y="592" textLength="114" lengthAdjust="spacingAndGlyphs">MACD(12,26,9) 90.62 -8.87</text>
<text x="-6.2" y="764" textLength="65.5" lengthAdjust="spacingAndGlyphs">RSI(14) 59.2424</text>
</g>
<rect x="1680" y="234" width="41" height="11" fill="#ff0000" shape-rendering="crispEdges"/>
<text x="1684" y="243" font-size="10.2" fill="#fff" textLength="33" lengthAdjust="spacingAndGlyphs">25407.4</text>
<rect x="1680" y="258" width="41" height="11" fill="#ff0000" shape-rendering="crispEdges"/>
<text x="1684" y="267" font-size="10.2" fill="#fff" textLength="33" lengthAdjust="spacingAndGlyphs">25079.1</text>
<rect x="1680" y="278" width="41" height="11" fill="#000000" shape-rendering="crispEdges"/>
<text x="1684" y="287" font-size="10.2" fill="#fff" textLength="33" lengthAdjust="spacingAndGlyphs">24815.5</text>
<rect x="1680" y="307" width="41" height="11" fill="#32cd32" shape-rendering="crispEdges"/>
<text x="1684" y="316" font-size="10.2" fill="#fff" textLength="33" lengthAdjust="spacingAndGlyphs">24399.2</text>
<rect x="1680" y="332" width="41" height="11" fill="#0000ff" shape-rendering="crispEdges"/>
<text x="1684" y="341" font-size="10.2" fill="#fff" textLength="33" lengthAdjust="spacingAndGlyphs">24066.1</text>
<rect x="1680" y="357" width="41" height="11" fill="#0000ff" shape-rendering="crispEdges"/>
<text x="1684" y="366" font-size="10.2" fill="#fff" textLength="33" lengthAdjust="spacingAndGlyphs">23724.7</text>
<rect x="1461.5" y="313.5" width="110" height="24" fill="#fff" stroke="#404040" stroke-width="1" shape-rendering="crispEdges"/>
<rect x="1461" y="313" width="111" height="1" fill="#ff00ff" shape-rendering="crispEdges"/>
<rect x="1514.5" y="311.5" width="2" height="2" fill="#fff" stroke="#00dd00" stroke-width="1" shape-rendering="crispEdges"/>
<text x="1461.2" y="333" font-size="20" fill="#00ff00" font-weight="300" font-family="Liberation Serif, Noto Serif CJK SC, serif" letter-spacing="1.7">多空转折点</text>
<rect x="1307" y="311" width="163" height="7" fill="#00ff00" shape-rendering="crispEdges"/>
<line x1="1298.8" y1="400.0" x2="1400.4" y2="288.5" stroke="#ff0000" stroke-width="3.4" stroke-linecap="round"/>
<polygon points="1405.5,283.0 1402.8,293.4 1395.4,286.6" fill="#ff0000"/>
<line x1="1405.5" y1="283.0" x2="1409.4" y2="331.5" stroke="#ff0000" stroke-width="3.4" stroke-linecap="round"/>
<polygon points="1410.0,339.0 1404.3,329.9 1414.2,329.1" fill="#ff0000"/>
<line x1="1410.0" y1="339.0" x2="1464.8" y2="282.4" stroke="#ff0000" stroke-width="3.4" stroke-linecap="round"/>
<polygon points="1470.0,277.0 1467.0,287.3 1459.8,280.3" fill="#ff0000"/>
<line x1="1342.7" y1="660.3" x2="1435.6" y2="627.5" stroke="#ff0000" stroke-width="3.4" stroke-linecap="round"/>
<polygon points="1442.7,625.0 1435.4,632.9 1432.1,623.4" fill="#ff0000"/>
<line x1="1313.3" y1="874.3" x2="1379.0" y2="824.5" stroke="#ff0000" stroke-width="3.4" stroke-linecap="round"/>
<polygon points="1385.0,820.0 1380.4,829.7 1374.4,821.7" fill="#ff0000"/>
<line x1="1385.0" y1="820.0" x2="1398.8" y2="838.0" stroke="#ff0000" stroke-width="3.4" stroke-linecap="round"/>
<polygon points="1403.3,844.0 1393.6,839.5 1401.5,833.4" fill="#ff0000"/>
<line x1="1403.3" y1="844.0" x2="1453.7" y2="811.4" stroke="#ff0000" stroke-width="3.4" stroke-linecap="round"/>
<polygon points="1460.0,807.3 1454.7,816.7 1449.3,808.3" fill="#ff0000"/>
<polygon points="1453,25 1462,25 1457.5,30" fill="#c0c0c0"/>
</svg>
<div class="panel">
<div style="position:absolute;left:0;top:0;width:212px;height:66px;background:#fff"></div>
<div class="pt" style="left:0;width:43px"></div><div class="pt" style="left:158px;width:52px"></div>
<div class="pd" style="left:0;width:39px"></div><div class="pd" style="left:162px;width:44px"></div>
<div class="pb" style="left:0;width:100px"></div><div class="pb" style="left:102px;width:108px"></div>
<div class="pl" style="left:0;width:39px"></div><div class="pl" style="left:162px;width:44px"></div>
<div class="pbtn" style="left:3px">SELL</div><div class="pbtn" style="left:171px">BUY</div>
<div class="spin"><div class="sb" style="left:1px"></div><div class="sb" style="left:90px"></div>
<svg style="position:absolute;left:0;top:0" width="110" height="20"><polygon points="8,8.500 13,8.500 10.500,11.500" fill="#4a5ac4"/><polygon points="96.500,11.500 101.500,11.500 99,8.500" fill="#4a5ac4"/></svg>
<div style="position:absolute;right:25px;top:0;font-size:13px;line-height:20px;color:#000">1.00</div></div>
<div class="sm" style="left:7px;top:45px">24814</div><div class="sm" style="left:117px;top:45px">24827</div>
<div class="bg" style="left:43px;top:26px">.0</div><div class="bg" style="left:154px;top:26px">.0</div>
</div>
</body></html>
